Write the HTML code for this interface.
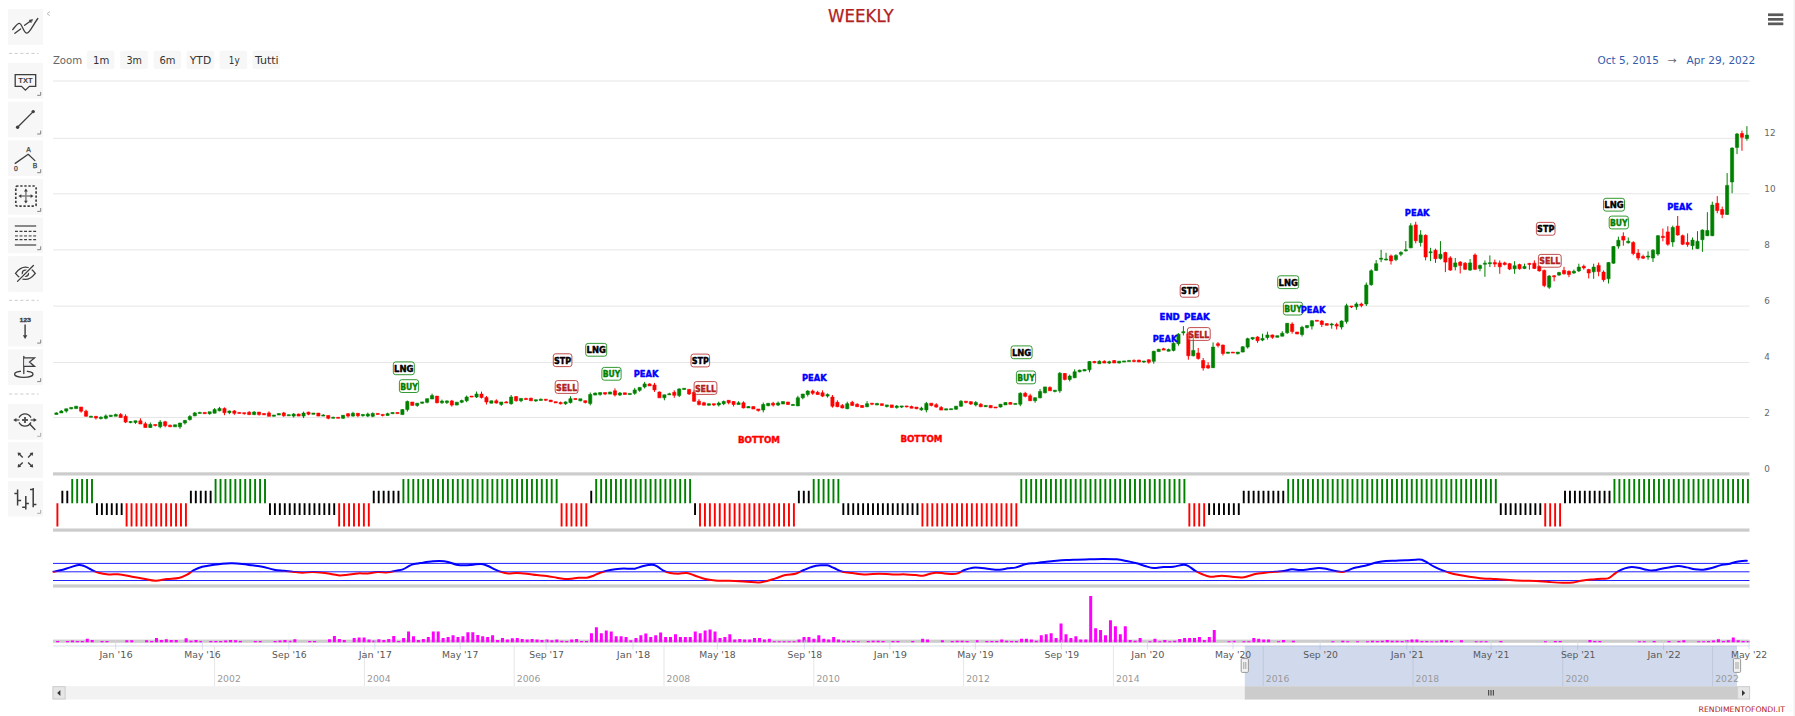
<!DOCTYPE html>
<html lang="en"><head><meta charset="utf-8"><title>WEEKLY</title>
<style>html,body{margin:0;padding:0;background:#fff;overflow:hidden}svg{display:block}</style>
</head><body>
<svg width="1795" height="716" viewBox="0 0 1795 716" font-family='"DejaVu Sans", "Liberation Sans", sans-serif'>
<rect width="1795" height="716" fill="#fff"/>
<rect x="1793.6" y="0" width="1.4" height="716" fill="#f1f1f1"/>
<text x="860.8" y="22.1" font-size="17.4" fill="#b22222" text-anchor="middle" textLength="65.6" lengthAdjust="spacingAndGlyphs" stroke="#b22222" stroke-width="0.25">WEEKLY</text>
<rect x="1768" y="13.4" width="15.3" height="2.7" fill="#595959"/>
<rect x="1768" y="18.0" width="15.3" height="2.7" fill="#595959"/>
<rect x="1768" y="22.5" width="15.3" height="2.7" fill="#595959"/>
<text x="52.9" y="63.5" font-size="10.2" fill="#666" textLength="29.3" lengthAdjust="spacingAndGlyphs">Zoom</text>
<rect x="86.8" y="50.8" width="27.6" height="18.2" rx="1.8" fill="#f7f7f7"/>
<text x="93" y="63.5" font-size="10.2" fill="#333" textLength="16.3" lengthAdjust="spacingAndGlyphs">1m</text>
<rect x="120.2" y="50.8" width="27.6" height="18.2" rx="1.8" fill="#f7f7f7"/>
<text x="126.5" y="63.5" font-size="10.2" fill="#333" textLength="15.5" lengthAdjust="spacingAndGlyphs">3m</text>
<rect x="153.6" y="50.8" width="27.6" height="18.2" rx="1.8" fill="#f7f7f7"/>
<text x="159.5" y="63.5" font-size="10.2" fill="#333" textLength="16" lengthAdjust="spacingAndGlyphs">6m</text>
<rect x="186.6" y="50.8" width="27.6" height="18.2" rx="1.8" fill="#f7f7f7"/>
<text x="189.8" y="63.5" font-size="10.2" fill="#333" textLength="21.4" lengthAdjust="spacingAndGlyphs">YTD</text>
<rect x="219.6" y="50.8" width="27.6" height="18.2" rx="1.8" fill="#f7f7f7"/>
<text x="228.8" y="63.5" font-size="10.2" fill="#333" textLength="10.8" lengthAdjust="spacingAndGlyphs">1y</text>
<rect x="252.5" y="50.8" width="27.6" height="18.2" rx="1.8" fill="#f7f7f7"/>
<text x="254.9" y="63.5" font-size="10.2" fill="#333" textLength="23.8" lengthAdjust="spacingAndGlyphs">Tutti</text>
<text x="1597.6" y="64" font-size="10.2" fill="#335cad" textLength="61.3" lengthAdjust="spacingAndGlyphs">Oct 5, 2015</text>
<text x="1667.6" y="64" font-size="10.2" fill="#666" textLength="9.2" lengthAdjust="spacingAndGlyphs">→</text>
<text x="1686.6" y="64" font-size="10.2" fill="#335cad" textLength="68.7" lengthAdjust="spacingAndGlyphs">Apr 29, 2022</text>
<rect x="53" y="80.5" width="1696.5" height="1" fill="#e6e6e6"/>
<rect x="53" y="137.8" width="1696.5" height="1" fill="#e6e6e6"/>
<rect x="53" y="193.3" width="1696.5" height="1" fill="#e6e6e6"/>
<rect x="53" y="249.4" width="1696.5" height="1" fill="#e6e6e6"/>
<rect x="53" y="305.6" width="1696.5" height="1" fill="#e6e6e6"/>
<rect x="53" y="361.9" width="1696.5" height="1" fill="#e6e6e6"/>
<rect x="53" y="417" width="1696.5" height="1" fill="#e6e6e6"/>
<text x="1764.3" y="135.6" font-size="8.8" fill="#666">12</text>
<text x="1764.3" y="191.6" font-size="8.8" fill="#666">10</text>
<text x="1764.3" y="247.6" font-size="8.8" fill="#666">8</text>
<text x="1764.3" y="303.6" font-size="8.8" fill="#666">6</text>
<text x="1764.3" y="359.6" font-size="8.8" fill="#666">4</text>
<text x="1764.3" y="415.6" font-size="8.8" fill="#666">2</text>
<text x="1764.3" y="471.6" font-size="8.8" fill="#666">0</text>
<rect x="53" y="472.29999999999995" width="1696.5" height="3.2" fill="#ccc"/>
<rect x="53" y="528.5" width="1696.5" height="3.2" fill="#ccc"/>
<rect x="53" y="584.4" width="1696.5" height="3.2" fill="#ccc"/>
<rect x="53" y="639.6" width="1696.5" height="3.2" fill="#ccc"/>
<path d="M56.4 412.4V414.4M61.34 410.1V412.9M66.29 408.8V412.6M71.23 407.4V409.3M76.17 406.2V408.6M91 415.7V417.3M100.89 416.3V419.5M105.83 414.4V419.3M110.77 415.2V417M115.72 413.6V416.2M130.54 421V423.2M135.49 420.8V423.9M150.32 422.5V428M160.2 420.1V428.3M175.03 424.8V426.8M179.97 423V428.8M184.92 419.9V424.5M189.86 415.1V420.6M194.8 411.9V416.3M199.75 411.8V413.4M209.63 411.8V414.7M214.58 408.1V413.2M219.52 406.9V411.3M229.41 410.5V414.2M254.12 411.1V415.1M273.89 415V416.3M278.83 413.6V415M288.72 414.7V415.8M293.66 413.1V417.6M303.55 411.6V418.1M313.44 413.1V414.3M323.32 414.1V416.1M333.21 416.7V418.3M343.09 415.3V418.8M352.98 411.8V416.6M362.87 413.9V416.7M367.81 412.6V417.1M372.75 412.4V417.3M387.58 412.7V415.4M392.52 412.5V413.7M402.41 409.1V414.6M407.35 400.5V411.6M417.24 403.2V406.9M422.18 401.9V403.8M427.12 398.7V403.3M432.07 393.6V399M441.95 399.6V403.8M446.9 400.4V404M456.78 402.2V405.1M461.73 399.6V403.2M466.67 395.5V402.2M476.55 391.5V398M491.38 400.8V403.2M501.27 402V405.9M511.16 395V404.7M521.04 398.4V402.2M535.87 399.7V401.9M540.81 398.6V400.4M565.53 401.4V404.8M570.47 396.2V403.5M580.36 398.8V401.3M590.24 392.5V405.4M595.19 392.6V395.1M600.13 392.6V395.6M610.02 391.6V394.1M619.9 392V396M629.79 393.4V394.6M634.73 387.9V394.8M639.67 387.4V391.8M644.62 381.9V388.4M664.39 394.8V400.3M669.33 392.8V394.8M679.22 388.4V397.1M684.16 388.3V389.5M708.88 403.7V405.7M718.76 401.6V406.5M723.7 400.5V405.2M738.53 401.3V404.5M748.42 406V407.9M763.25 402.5V412.4M768.19 403.3V406.2M778.08 401.5V406.1M783.02 401.6V404M792.91 403.9V405.5M797.85 395.8V405.9M802.79 394V399.3M807.74 390.1V396.5M827.51 393.4V397.6M847.28 401.7V409.2M867.05 401.2V407.2M876.94 402.9V405M886.82 404.9V407.5M896.71 405V408.6M901.65 405.9V408.1M921.42 406.7V410.8M926.37 401.9V412.4M946.14 408.8V410.1M951.08 408.7V409.7M956.03 406.2V409.7M960.97 400.2V406.7M975.8 401V406.4M985.68 405.4V406.7M1000.51 404.2V407.5M1005.46 402.5V404.9M1015.34 403.4V404.3M1020.28 392.3V406.2M1035.11 397.7V402.7M1040.06 389V398.3M1045 386.9V393.3M1054.89 390.2V392.4M1059.83 372.2V392.8M1069.71 374.6V381.4M1074.66 369.3V378.2M1079.6 369.7V372.3M1084.54 369.4V371M1089.49 361.5V372.3M1099.37 360.3V363.7M1109.26 360.7V364.1M1119.14 361.2V363.5M1124.09 360.9V362.1M1129.03 360.4V361.6M1143.86 361V363M1153.75 350.8V363.8M1158.69 348.8V351.6M1168.58 348.6V351.2M1173.52 342.2V351.4M1178.46 333.2V345.7M1183.4 326.1V335.4M1193.29 335.4V356.3M1213.06 342.4V368M1227.89 352.1V353.3M1237.78 352.1V354.3M1242.72 346.3V352.1M1247.66 337.7V348.6M1252.61 337.4V340M1262.49 333.7V341.2M1267.43 331.7V339.6M1277.32 335.7V337.3M1282.26 331.2V336.2M1287.21 323.3V333.8M1302.04 325.8V336.5M1306.98 325.6V328.5M1311.92 320.3V329.5M1331.69 322.8V328.7M1341.58 320.3V329.5M1346.52 303.7V323.6M1356.41 302.3V309.8M1366.3 282.5V306M1371.24 269.3V285.7M1376.18 260.1V270.8M1381.12 249.8V262.1M1386.07 252.8V260.4M1395.95 254.2V261.2M1400.9 251.2V256.2M1405.84 241.1V251.5M1410.78 223.2V248.2M1420.67 230.2V246.6M1430.55 247.8V261.2M1440.44 241.1V259.6M1455.27 257.9V270.4M1470.1 259V270.8M1479.98 264.6V271.3M1484.93 260.4V276.8M1489.87 255.4V267.1M1514.59 261.2V273.8M1524.47 263.7V269.1M1549.19 275.1V288.9M1559.07 271.8V275.8M1573.9 269.6V273.8M1578.84 263.7V272.1M1593.67 263.7V278.8M1608.5 262.1V283.5M1613.44 246.1V263.7M1618.39 236.6V248.7M1628.27 237.5V243.5M1648.05 251.3V259.8M1652.99 249.1V262M1657.93 235.2V255.8M1672.76 225.6V246.8M1692.53 237.5V249.7M1697.48 231.2V249.1M1702.42 229.4V251.8M1707.36 212.2V236.1M1712.31 201.7V236.1M1727.13 173.1V214.9M1732.08 147.4V193.2M1737.02 132.9V154.1M1746.91 126.2V140.7" stroke="#008000" stroke-width="1" fill="none"/>
<path d="M81.11 407V412.7M86.06 409.7V416.3M95.94 416.3V419.5M120.66 413.1V417.6M125.6 414.3V423.1M140.43 418.3V424M145.37 421.8V427.5M155.26 424.5V426.5M165.15 420.8V427.3M170.09 424.7V426.8M204.69 412.4V413.7M224.46 407.4V415.2M234.35 410V414.8M239.29 412.4V413.4M244.23 412.7V414.7M249.18 411.2V415.1M259.06 412.1V415.6M264.01 413V414.8M268.95 411.4V416.3M283.78 411.9V416.8M298.61 413.6V416.1M308.49 411.7V415.2M318.38 413.1V416.1M328.26 415.4V419.3M338.15 417.3V418.3M348.04 413.2V417.6M357.92 413.3V417.2M377.69 413.4V414.4M382.64 414.4V416.4M397.47 412.5V413.6M412.3 402V405.4M437.01 396.1V403.3M451.84 399.9V406.6M471.61 396.1V397.1M481.5 391.6V398.5M486.44 396V404.5M496.33 399.3V403.6M506.21 401V403M516.1 396.1V401.7M525.99 397.8V400.1M530.93 397.7V400.8M545.76 399.2V401.1M550.7 400.1V401.7M555.64 401.7V402.9M560.59 401.6V404.4M575.41 398.5V399.5M585.3 400.7V403.5M605.07 392.6V395.1M614.96 388.3V396.5M624.84 392.8V394.5M649.56 383.4V385.9M654.5 382.9V391.9M659.45 391.5V397.8M674.27 390.3V397.8M689.1 388.9V395M694.05 390.3V401.7M698.99 399.2V405.5M703.93 401.8V405.2M713.82 403.7V406M728.65 400.3V404.3M733.59 401V406.5M743.48 401.3V408.4M753.36 406.6V409M758.31 409V411.6M773.13 401.8V406.6M787.96 402V405M812.68 389.6V394.8M817.62 390.8V394.5M822.56 390.3V397.1M832.45 395V407.7M837.39 400.3V407.2M842.34 403.9V408.4M852.22 400.8V405.9M857.17 403.2V406.7M862.11 405V407.5M871.99 403.2V405.2M881.88 403.7V405.9M891.77 404.9V407.6M906.6 405.9V407.4M911.54 405.6V408.2M916.48 407.1V409.2M931.31 403.2V406.4M936.25 403.2V407.6M941.2 406V410.1M965.91 401.2V403.4M970.85 401.2V405M980.74 403.2V407.2M990.63 405.4V407.8M995.57 407V408M1010.4 402V404.3M1025.23 391.8V397.3M1030.17 393.8V401.2M1049.94 386.4V390.8M1064.77 373V380.4M1094.43 360.9V363.3M1104.32 360.3V363.1M1114.2 360.1V363M1133.97 359.4V362.3M1138.92 360V362M1148.8 359.3V363.7M1163.63 347.8V350.1M1188.35 332V359.7M1198.23 347.9V359.7M1203.18 358V370.6M1208.12 362.2V368.9M1218.01 342.1V347.4M1222.95 344.6V355.5M1232.83 352.1V352.8M1257.55 336.2V342.9M1272.38 334.5V338.8M1292.15 322.3V333.7M1297.09 332V334M1316.87 320.3V321.1M1321.81 320.1V327M1326.75 323.6V325.3M1336.64 322.8V329.5M1351.47 306V308M1361.35 302.6V307.3M1391.01 254.5V264.6M1415.72 221.8V243.3M1425.61 234.4V260.4M1435.5 248.7V262.9M1445.38 251.7V272.1M1450.33 256.2V270.8M1460.21 261.2V273.5M1465.15 262.1V270.1M1475.04 253.4V270.1M1494.81 259.6V267.1M1499.76 260.4V273.8M1504.7 261.7V265.4M1509.64 262.9V270.1M1519.53 263.7V269.6M1529.41 262.9V269.6M1534.36 260.4V269.1M1539.3 265.4V271.6M1544.24 269.6V287.2M1554.13 275.1V281.3M1564.01 266.8V274.6M1568.96 270.4V277.2M1583.79 264.6V269.6M1588.73 268.8V278.5M1598.62 262.6V276.3M1603.56 270.4V281.8M1623.33 232.3V245.7M1633.22 241.3V255.3M1638.16 249.1V260.3M1643.1 254.7V259.1M1662.88 228.5V241.3M1667.82 226.3V245.7M1677.7 216V235.7M1682.65 234.6V245.1M1687.59 233.4V246.8M1717.25 196.1V213.3M1722.19 206.6V218.2M1741.96 130.6V150.8" stroke="#ff0000" stroke-width="1" fill="none"/>
<path d="M54.8 412.9h3.2V414.4h-3.2zM59.74 411.1h3.2V412.9h-3.2zM64.69 408.8h3.2V411.1h-3.2zM69.63 407.4h3.2V408.8h-3.2zM74.57 406.2h3.2V408.6h-3.2zM89.4 416.3h3.2V417.3h-3.2zM99.29 417.3h3.2V418.5h-3.2zM104.23 415.9h3.2V418.3h-3.2zM109.17 415.2h3.2V416.4h-3.2zM114.12 414.6h3.2V416.2h-3.2zM128.94 421.6h3.2V422.6h-3.2zM133.89 420.8h3.2V422.4h-3.2zM148.72 424.5h3.2V427.5h-3.2zM158.6 422.1h3.2V426.8h-3.2zM173.43 424.8h3.2V426.8h-3.2zM178.38 423h3.2V426.8h-3.2zM183.32 420.4h3.2V423h-3.2zM188.26 416.6h3.2V419.6h-3.2zM193.2 412.9h3.2V415.8h-3.2zM198.15 412.4h3.2V413.4h-3.2zM208.03 411.8h3.2V413.7h-3.2zM212.98 409.6h3.2V413.2h-3.2zM217.92 408.4h3.2V410.8h-3.2zM227.81 411h3.2V412.7h-3.2zM252.52 412.1h3.2V414.6h-3.2zM272.29 415h3.2V416.3h-3.2zM277.23 413.6h3.2V415h-3.2zM287.12 414.7h3.2V415.8h-3.2zM292.06 414.1h3.2V416.1h-3.2zM301.95 413.1h3.2V416.1h-3.2zM311.84 413.1h3.2V414.3h-3.2zM321.72 415.1h3.2V416.1h-3.2zM331.61 417.3h3.2V418.3h-3.2zM341.49 415.3h3.2V418.3h-3.2zM351.38 413.3h3.2V416.1h-3.2zM361.27 414.5h3.2V415.7h-3.2zM366.21 414.1h3.2V416.1h-3.2zM371.15 413.4h3.2V416.3h-3.2zM385.98 413.7h3.2V415.4h-3.2zM390.92 412.5h3.2V413.7h-3.2zM400.81 409.6h3.2V414.6h-3.2zM405.75 401.5h3.2V409.6h-3.2zM415.64 403.2h3.2V405.4h-3.2zM420.58 401.9h3.2V403.2h-3.2zM425.52 398.7h3.2V402.3h-3.2zM430.47 395.6h3.2V399h-3.2zM440.35 401.1h3.2V402.8h-3.2zM445.3 400.9h3.2V402.5h-3.2zM455.18 402.2h3.2V405.1h-3.2zM460.13 400.6h3.2V402.2h-3.2zM465.07 397h3.2V400.7h-3.2zM474.95 394h3.2V397h-3.2zM489.78 400.8h3.2V403.2h-3.2zM499.67 402h3.2V404.4h-3.2zM509.56 397h3.2V403.7h-3.2zM519.44 398.4h3.2V400.7h-3.2zM534.27 399.7h3.2V400.9h-3.2zM539.21 399.2h3.2V400.4h-3.2zM563.93 401.9h3.2V403.8h-3.2zM568.87 398.7h3.2V402.5h-3.2zM578.76 398.8h3.2V400.8h-3.2zM588.64 394.5h3.2V403.4h-3.2zM593.59 393.1h3.2V395.1h-3.2zM598.53 392.6h3.2V394.6h-3.2zM608.42 392.1h3.2V394.1h-3.2zM618.3 393h3.2V395h-3.2zM628.19 393.4h3.2V394.6h-3.2zM633.13 389.9h3.2V393.3h-3.2zM638.07 387.4h3.2V390.3h-3.2zM643.02 383.9h3.2V386.9h-3.2zM662.79 394.8h3.2V397.8h-3.2zM667.73 393.8h3.2V394.8h-3.2zM677.62 388.9h3.2V395.6h-3.2zM682.56 388.3h3.2V389.5h-3.2zM707.28 403.7h3.2V405.2h-3.2zM717.16 403.1h3.2V405h-3.2zM722.1 401.5h3.2V403.7h-3.2zM736.93 402.8h3.2V404.5h-3.2zM746.82 406.6h3.2V407.9h-3.2zM761.65 404.5h3.2V409.9h-3.2zM766.59 403.3h3.2V405.7h-3.2zM776.48 403h3.2V405.1h-3.2zM781.42 401.6h3.2V404h-3.2zM791.31 404.5h3.2V405.5h-3.2zM796.25 397.8h3.2V405.9h-3.2zM801.19 394h3.2V397.8h-3.2zM806.14 391.1h3.2V394.5h-3.2zM825.91 394.4h3.2V396.1h-3.2zM845.68 403.7h3.2V408.7h-3.2zM865.45 403.7h3.2V406.7h-3.2zM875.34 403.4h3.2V405h-3.2zM885.22 404.9h3.2V406.5h-3.2zM895.11 406h3.2V407.6h-3.2zM900.05 405.9h3.2V407.1h-3.2zM919.82 408.2h3.2V409.8h-3.2zM924.77 403.4h3.2V409.9h-3.2zM944.54 408.8h3.2V410.1h-3.2zM949.48 408.7h3.2V409.7h-3.2zM954.43 406.2h3.2V409.2h-3.2zM959.37 401.2h3.2V406.2h-3.2zM974.2 402.5h3.2V404.9h-3.2zM984.08 405.4h3.2V406.7h-3.2zM998.91 404.2h3.2V407h-3.2zM1003.86 402.5h3.2V404.9h-3.2zM1013.74 403.4h3.2V404.4h-3.2zM1018.68 393.3h3.2V404.2h-3.2zM1033.51 397.7h3.2V400.7h-3.2zM1038.46 391.5h3.2V397.8h-3.2zM1043.4 386.9h3.2V392.8h-3.2zM1053.29 390.2h3.2V391.4h-3.2zM1058.23 373.2h3.2V390.8h-3.2zM1068.12 376.1h3.2V379.4h-3.2zM1073.06 371.8h3.2V377.7h-3.2zM1078 370.2h3.2V371.8h-3.2zM1082.94 369.4h3.2V371h-3.2zM1087.89 361.5h3.2V369.8h-3.2zM1097.77 361.3h3.2V363.7h-3.2zM1107.66 361.7h3.2V363.1h-3.2zM1117.55 361.2h3.2V363h-3.2zM1122.49 360.9h3.2V362.1h-3.2zM1127.43 360.4h3.2V361.6h-3.2zM1142.26 361h3.2V362h-3.2zM1152.15 351.3h3.2V361.3h-3.2zM1157.09 349.3h3.2V351.6h-3.2zM1166.98 349.6h3.2V351.2h-3.2zM1171.92 343.2h3.2V350.4h-3.2zM1176.86 334.2h3.2V343.7h-3.2zM1181.8 331.7h3.2V332.8h-3.2zM1191.69 350.4h3.2V355.8h-3.2zM1211.46 347.1h3.2V367.7h-3.2zM1226.29 352.1h3.2V353.3h-3.2zM1236.18 352.1h3.2V353.8h-3.2zM1241.12 346.8h3.2V352.1h-3.2zM1246.06 338.7h3.2V347.1h-3.2zM1251.01 337.4h3.2V339h-3.2zM1260.89 338.4h3.2V340.1h-3.2zM1265.84 335h3.2V337.5h-3.2zM1275.72 335.7h3.2V337.3h-3.2zM1280.66 333.2h3.2V336.2h-3.2zM1285.61 323.3h3.2V332.8h-3.2zM1300.44 327.3h3.2V334.5h-3.2zM1305.38 325.6h3.2V327.5h-3.2zM1310.32 320.8h3.2V326.1h-3.2zM1330.09 324h3.2V325h-3.2zM1339.98 321.1h3.2V327h-3.2zM1344.92 305.7h3.2V321.6h-3.2zM1354.81 304h3.2V306.8h-3.2zM1364.7 285h3.2V304h-3.2zM1369.64 270.8h3.2V284.7h-3.2zM1374.58 263.7h3.2V270.4h-3.2zM1379.52 258.2h3.2V259.2h-3.2zM1384.47 259h3.2V260h-3.2zM1394.35 255.4h3.2V259.6h-3.2zM1399.3 252.5h3.2V254.2h-3.2zM1404.24 249.8h3.2V250.8h-3.2zM1409.18 225.7h3.2V247.8h-3.2zM1419.07 234.9h3.2V242.5h-3.2zM1428.95 251.8h3.2V252.8h-3.2zM1438.84 254.2h3.2V258.4h-3.2zM1453.67 262.9h3.2V266.8h-3.2zM1468.5 262.9h3.2V270.1h-3.2zM1478.38 265.4h3.2V268.4h-3.2zM1483.33 263.2h3.2V264.2h-3.2zM1488.27 262.7h3.2V263.7h-3.2zM1512.99 265.8h3.2V268.8h-3.2zM1522.87 266.4h3.2V268.4h-3.2zM1547.59 276h3.2V287.2h-3.2zM1557.47 272.6h3.2V275.1h-3.2zM1572.3 271.3h3.2V273h-3.2zM1577.24 267.1h3.2V270.9h-3.2zM1592.07 267.1h3.2V271.8h-3.2zM1606.9 262.6h3.2V278.8h-3.2zM1611.85 246.5h3.2V263.2h-3.2zM1616.79 240.3h3.2V246.1h-3.2zM1626.67 241.3h3.2V242.8h-3.2zM1646.45 256h3.2V257.1h-3.2zM1651.39 250.2h3.2V258h-3.2zM1656.33 235.7h3.2V254h-3.2zM1671.16 227.4h3.2V241.9h-3.2zM1690.93 240.1h3.2V245.7h-3.2zM1695.88 241.3h3.2V248.6h-3.2zM1700.82 230.1h3.2V239.7h-3.2zM1705.76 230.5h3.2V235.7h-3.2zM1710.71 205.1h3.2V235.7h-3.2zM1725.53 185.4h3.2V214.4h-3.2zM1730.48 148.1h3.2V182h-3.2zM1735.42 134h3.2V147.4h-3.2zM1745.31 135.1h3.2V138.5h-3.2z" fill="#008000" stroke="#008000" stroke-width="0.6" stroke-linejoin="round"/>
<path d="M79.52 407h3.2V411.2h-3.2zM84.46 411.2h3.2V416.3h-3.2zM94.34 416.3h3.2V418h-3.2zM119.06 414.6h3.2V417.6h-3.2zM124 416.3h3.2V422.1h-3.2zM138.83 420.8h3.2V424h-3.2zM143.77 423.8h3.2V427.5h-3.2zM153.66 424.5h3.2V425.5h-3.2zM163.55 421.8h3.2V425.8h-3.2zM168.49 425.2h3.2V426.8h-3.2zM203.09 412.4h3.2V413.7h-3.2zM222.86 408.4h3.2V412.7h-3.2zM232.75 411h3.2V413.3h-3.2zM237.69 412.4h3.2V413.4h-3.2zM242.63 412.7h3.2V413.7h-3.2zM247.58 412.2h3.2V414.6h-3.2zM257.46 412.1h3.2V414.6h-3.2zM262.41 413.6h3.2V414.8h-3.2zM267.35 412.9h3.2V416.3h-3.2zM282.18 412.9h3.2V415.8h-3.2zM297.01 414.1h3.2V416.1h-3.2zM306.89 412.2h3.2V414.2h-3.2zM316.78 413.1h3.2V416.1h-3.2zM326.66 415.4h3.2V418.3h-3.2zM336.55 417.3h3.2V418.3h-3.2zM346.44 413.7h3.2V416.1h-3.2zM356.32 413.3h3.2V415.7h-3.2zM376.09 413.4h3.2V414.4h-3.2zM381.04 414.4h3.2V415.4h-3.2zM395.87 412.5h3.2V413.6h-3.2zM410.7 402h3.2V405.4h-3.2zM435.41 396.1h3.2V402.8h-3.2zM450.24 400.9h3.2V405.1h-3.2zM470.01 396.1h3.2V397.1h-3.2zM479.9 394.1h3.2V397.5h-3.2zM484.84 397.5h3.2V402h-3.2zM494.73 400.8h3.2V403.1h-3.2zM504.61 402h3.2V403h-3.2zM514.5 396.6h3.2V400.7h-3.2zM524.38 398.4h3.2V399.5h-3.2zM529.33 398.2h3.2V400.8h-3.2zM544.16 399.2h3.2V400.2h-3.2zM549.1 400.1h3.2V401.7h-3.2zM554.04 401.7h3.2V402.9h-3.2zM558.99 402.6h3.2V403.8h-3.2zM573.81 398.5h3.2V399.5h-3.2zM583.7 400.7h3.2V402.5h-3.2zM603.47 392.6h3.2V394.1h-3.2zM613.36 390.8h3.2V395h-3.2zM623.24 392.8h3.2V394.5h-3.2zM647.96 383.9h3.2V385.9h-3.2zM652.9 384.9h3.2V389.9h-3.2zM657.85 392h3.2V397.8h-3.2zM672.67 392.3h3.2V395.3h-3.2zM687.5 389.4h3.2V394h-3.2zM692.45 392.3h3.2V401.2h-3.2zM697.39 401.2h3.2V404.5h-3.2zM702.33 402.8h3.2V405.2h-3.2zM712.22 403.7h3.2V405h-3.2zM727.05 400.3h3.2V402.8h-3.2zM731.99 401.5h3.2V404.5h-3.2zM741.88 402.8h3.2V407.9h-3.2zM751.76 406.6h3.2V409h-3.2zM756.71 409h3.2V410.6h-3.2zM771.53 403.3h3.2V405.1h-3.2zM786.36 402h3.2V404.5h-3.2zM811.08 391.1h3.2V393.3h-3.2zM816.02 392.3h3.2V394.5h-3.2zM820.96 392.8h3.2V396.1h-3.2zM830.85 397h3.2V406.2h-3.2zM835.79 402.3h3.2V406.7h-3.2zM840.74 405.4h3.2V407.9h-3.2zM850.62 402.3h3.2V405.4h-3.2zM855.57 404.2h3.2V406.7h-3.2zM860.51 405.5h3.2V407.5h-3.2zM870.39 403.2h3.2V404.2h-3.2zM880.28 403.7h3.2V405.4h-3.2zM890.17 404.9h3.2V407.6h-3.2zM905 405.9h3.2V406.9h-3.2zM909.94 406.6h3.2V408.2h-3.2zM914.88 407.1h3.2V408.7h-3.2zM929.71 403.2h3.2V405.4h-3.2zM934.65 404.7h3.2V407.1h-3.2zM939.6 407.5h3.2V410.1h-3.2zM964.31 401.2h3.2V402.4h-3.2zM969.25 401.7h3.2V404h-3.2zM979.14 404.2h3.2V406.7h-3.2zM989.03 405.4h3.2V407.8h-3.2zM993.97 407h3.2V408h-3.2zM1008.8 402.5h3.2V404.3h-3.2zM1023.63 393.3h3.2V396.3h-3.2zM1028.57 395.8h3.2V400.7h-3.2zM1048.34 387.4h3.2V390.8h-3.2zM1063.17 373.5h3.2V379.4h-3.2zM1092.83 361.5h3.2V362.7h-3.2zM1102.72 361.3h3.2V363.1h-3.2zM1112.6 360.6h3.2V363h-3.2zM1132.37 360.4h3.2V361.4h-3.2zM1137.32 360h3.2V362h-3.2zM1147.2 359.8h3.2V362.2h-3.2zM1162.03 348.8h3.2V350.1h-3.2zM1186.75 333.7h3.2V355.8h-3.2zM1196.63 353h3.2V358.5h-3.2zM1201.58 360.5h3.2V368h-3.2zM1206.52 365.5h3.2V368h-3.2zM1216.41 343.7h3.2V345.4h-3.2zM1221.35 345.1h3.2V353.5h-3.2zM1231.23 352.1h3.2V353.1h-3.2zM1255.95 337h3.2V340.7h-3.2zM1270.78 335h3.2V337.3h-3.2zM1290.55 324.1h3.2V331.5h-3.2zM1295.49 332h3.2V334h-3.2zM1315.27 320.3h3.2V321.3h-3.2zM1320.21 321.1h3.2V324.5h-3.2zM1325.15 323.6h3.2V325.3h-3.2zM1335.04 324.5h3.2V326.1h-3.2zM1349.87 306h3.2V307h-3.2zM1359.75 304h3.2V305.6h-3.2zM1389.41 255.9h3.2V260.9h-3.2zM1414.12 224.9h3.2V240.8h-3.2zM1424.01 235.3h3.2V257h-3.2zM1433.9 250.3h3.2V258.7h-3.2zM1443.78 252.5h3.2V262.1h-3.2zM1448.73 257.9h3.2V270.1h-3.2zM1458.61 262.1h3.2V265.4h-3.2zM1463.56 263.2h3.2V269.3h-3.2zM1473.44 255h3.2V269.3h-3.2zM1493.21 262.4h3.2V264.1h-3.2zM1498.16 262.9h3.2V266.8h-3.2zM1503.1 262.9h3.2V264.6h-3.2zM1508.04 263.7h3.2V269.1h-3.2zM1517.93 264.6h3.2V268.8h-3.2zM1527.81 263.4h3.2V264.4h-3.2zM1532.76 263.2h3.2V268.4h-3.2zM1537.7 266.3h3.2V270.9h-3.2zM1542.64 270.4h3.2V285.5h-3.2zM1552.53 275.8h3.2V276.8h-3.2zM1562.41 270.4h3.2V273.8h-3.2zM1567.36 271.3h3.2V274.6h-3.2zM1582.19 266.3h3.2V267.9h-3.2zM1587.13 269.6h3.2V273h-3.2zM1597.02 265.4h3.2V271.6h-3.2zM1601.96 272.1h3.2V279.7h-3.2zM1621.73 236.3h3.2V240.1h-3.2zM1631.62 242.4h3.2V253.5h-3.2zM1636.56 253.1h3.2V258h-3.2zM1641.5 256.5h3.2V258.2h-3.2zM1661.28 236.3h3.2V237.5h-3.2zM1666.22 231.9h3.2V244.2h-3.2zM1676.1 226.1h3.2V235h-3.2zM1681.05 235.7h3.2V244.2h-3.2zM1685.99 242.4h3.2V244.6h-3.2zM1715.65 203.3h3.2V210.6h-3.2zM1720.59 209.5h3.2V214.4h-3.2zM1740.36 133.5h3.2V137.3h-3.2z" fill="#ff0000" stroke="#ff0000" stroke-width="0.6" stroke-linejoin="round"/>
<rect x="393.3" y="361.9" width="21" height="12.8" rx="2.4" fill="#fff" fill-opacity="0.3" stroke="#008000" stroke-width="1" stroke-opacity="0.8"/>
<text x="403.8" y="371.8" font-size="9.5" fill="#000" text-anchor="middle" font-weight="bold" textLength="19.4" lengthAdjust="spacingAndGlyphs" stroke="#000" stroke-width="0.45" stroke-linejoin="round">LNG</text>
<rect x="399.4" y="379.7" width="19.2" height="12.8" rx="2.4" fill="#fff" fill-opacity="0.3" stroke="#008000" stroke-width="1" stroke-opacity="0.8"/>
<text x="409" y="389.6" font-size="9.5" fill="#008000" text-anchor="middle" font-weight="bold" textLength="17.6" lengthAdjust="spacingAndGlyphs" stroke="#008000" stroke-width="0.45" stroke-linejoin="round">BUY</text>
<rect x="553.3" y="353.8" width="18.6" height="12.8" rx="2.4" fill="#fff" fill-opacity="0.3" stroke="#b22222" stroke-width="1" stroke-opacity="0.8"/>
<text x="562.6" y="363.7" font-size="9.5" fill="#000" text-anchor="middle" font-weight="bold" textLength="17.2" lengthAdjust="spacingAndGlyphs" stroke="#000" stroke-width="0.45" stroke-linejoin="round">STP</text>
<rect x="555.2" y="380.6" width="22.8" height="12.8" rx="2.4" fill="#fff" fill-opacity="0.3" stroke="#b22222" stroke-width="1" stroke-opacity="0.8"/>
<text x="566.6" y="390.5" font-size="9.5" fill="#b22222" text-anchor="middle" font-weight="bold" textLength="21.2" lengthAdjust="spacingAndGlyphs" stroke="#b22222" stroke-width="0.45" stroke-linejoin="round">SELL</text>
<rect x="585.7" y="343.4" width="21" height="12.8" rx="2.4" fill="#fff" fill-opacity="0.3" stroke="#008000" stroke-width="1" stroke-opacity="0.8"/>
<text x="596.2" y="353.3" font-size="9.5" fill="#000" text-anchor="middle" font-weight="bold" textLength="19.4" lengthAdjust="spacingAndGlyphs" stroke="#000" stroke-width="0.45" stroke-linejoin="round">LNG</text>
<rect x="601.9" y="367.4" width="19.2" height="12.8" rx="2.4" fill="#fff" fill-opacity="0.3" stroke="#008000" stroke-width="1" stroke-opacity="0.8"/>
<text x="611.5" y="377.3" font-size="9.5" fill="#008000" text-anchor="middle" font-weight="bold" textLength="17.6" lengthAdjust="spacingAndGlyphs" stroke="#008000" stroke-width="0.45" stroke-linejoin="round">BUY</text>
<text x="646" y="377.1" font-size="9.5" fill="#0000ff" text-anchor="middle" font-weight="bold" textLength="24.7" lengthAdjust="spacingAndGlyphs" stroke="#0000ff" stroke-width="0.45" stroke-linejoin="round">PEAK</text>
<rect x="691" y="354.1" width="18.6" height="12.8" rx="2.4" fill="#fff" fill-opacity="0.3" stroke="#b22222" stroke-width="1" stroke-opacity="0.8"/>
<text x="700.3" y="364" font-size="9.5" fill="#000" text-anchor="middle" font-weight="bold" textLength="17.2" lengthAdjust="spacingAndGlyphs" stroke="#000" stroke-width="0.45" stroke-linejoin="round">STP</text>
<rect x="694.1" y="381.6" width="22.8" height="12.8" rx="2.4" fill="#fff" fill-opacity="0.3" stroke="#b22222" stroke-width="1" stroke-opacity="0.8"/>
<text x="705.5" y="391.5" font-size="9.5" fill="#b22222" text-anchor="middle" font-weight="bold" textLength="21.2" lengthAdjust="spacingAndGlyphs" stroke="#b22222" stroke-width="0.45" stroke-linejoin="round">SELL</text>
<text x="759" y="442.9" font-size="9.5" fill="#ff0000" text-anchor="middle" font-weight="bold" textLength="42" lengthAdjust="spacingAndGlyphs" stroke="#ff0000" stroke-width="0.45" stroke-linejoin="round">BOTTOM</text>
<text x="814.3" y="381" font-size="9.5" fill="#0000ff" text-anchor="middle" font-weight="bold" textLength="24.7" lengthAdjust="spacingAndGlyphs" stroke="#0000ff" stroke-width="0.45" stroke-linejoin="round">PEAK</text>
<text x="921.4" y="442.1" font-size="9.5" fill="#ff0000" text-anchor="middle" font-weight="bold" textLength="42" lengthAdjust="spacingAndGlyphs" stroke="#ff0000" stroke-width="0.45" stroke-linejoin="round">BOTTOM</text>
<rect x="1011.1" y="345.9" width="21" height="12.8" rx="2.4" fill="#fff" fill-opacity="0.3" stroke="#008000" stroke-width="1" stroke-opacity="0.8"/>
<text x="1021.6" y="355.8" font-size="9.5" fill="#000" text-anchor="middle" font-weight="bold" textLength="19.4" lengthAdjust="spacingAndGlyphs" stroke="#000" stroke-width="0.45" stroke-linejoin="round">LNG</text>
<rect x="1016.4" y="371" width="19.2" height="12.8" rx="2.4" fill="#fff" fill-opacity="0.3" stroke="#008000" stroke-width="1" stroke-opacity="0.8"/>
<text x="1026" y="380.9" font-size="9.5" fill="#008000" text-anchor="middle" font-weight="bold" textLength="17.6" lengthAdjust="spacingAndGlyphs" stroke="#008000" stroke-width="0.45" stroke-linejoin="round">BUY</text>
<text x="1165" y="342" font-size="9.5" fill="#0000ff" text-anchor="middle" font-weight="bold" textLength="24.7" lengthAdjust="spacingAndGlyphs" stroke="#0000ff" stroke-width="0.45" stroke-linejoin="round">PEAK</text>
<text x="1184.6" y="320.2" font-size="9.5" fill="#0000ff" text-anchor="middle" font-weight="bold" textLength="50.2" lengthAdjust="spacingAndGlyphs" stroke="#0000ff" stroke-width="0.45" stroke-linejoin="round">END_PEAK</text>
<rect x="1180.2" y="284.4" width="18.6" height="12.8" rx="2.4" fill="#fff" fill-opacity="0.3" stroke="#b22222" stroke-width="1" stroke-opacity="0.8"/>
<text x="1189.5" y="294.3" font-size="9.5" fill="#000" text-anchor="middle" font-weight="bold" textLength="17.2" lengthAdjust="spacingAndGlyphs" stroke="#000" stroke-width="0.45" stroke-linejoin="round">STP</text>
<rect x="1187.4" y="327.6" width="22.8" height="12.8" rx="2.4" fill="#fff" fill-opacity="0.3" stroke="#b22222" stroke-width="1" stroke-opacity="0.8"/>
<text x="1198.8" y="337.5" font-size="9.5" fill="#b22222" text-anchor="middle" font-weight="bold" textLength="21.2" lengthAdjust="spacingAndGlyphs" stroke="#b22222" stroke-width="0.45" stroke-linejoin="round">SELL</text>
<rect x="1277.7" y="275.8" width="21" height="12.8" rx="2.4" fill="#fff" fill-opacity="0.3" stroke="#008000" stroke-width="1" stroke-opacity="0.8"/>
<text x="1288.2" y="285.7" font-size="9.5" fill="#000" text-anchor="middle" font-weight="bold" textLength="19.4" lengthAdjust="spacingAndGlyphs" stroke="#000" stroke-width="0.45" stroke-linejoin="round">LNG</text>
<rect x="1283.4" y="302.2" width="19.2" height="12.8" rx="2.4" fill="#fff" fill-opacity="0.3" stroke="#008000" stroke-width="1" stroke-opacity="0.8"/>
<text x="1293" y="312.1" font-size="9.5" fill="#008000" text-anchor="middle" font-weight="bold" textLength="17.6" lengthAdjust="spacingAndGlyphs" stroke="#008000" stroke-width="0.45" stroke-linejoin="round">BUY</text>
<text x="1313" y="313" font-size="9.5" fill="#0000ff" text-anchor="middle" font-weight="bold" textLength="24.7" lengthAdjust="spacingAndGlyphs" stroke="#0000ff" stroke-width="0.45" stroke-linejoin="round">PEAK</text>
<text x="1417.2" y="216" font-size="9.5" fill="#0000ff" text-anchor="middle" font-weight="bold" textLength="24.7" lengthAdjust="spacingAndGlyphs" stroke="#0000ff" stroke-width="0.45" stroke-linejoin="round">PEAK</text>
<rect x="1536.4" y="222.4" width="18.6" height="12.8" rx="2.4" fill="#fff" fill-opacity="0.3" stroke="#b22222" stroke-width="1" stroke-opacity="0.8"/>
<text x="1545.7" y="232.3" font-size="9.5" fill="#000" text-anchor="middle" font-weight="bold" textLength="17.2" lengthAdjust="spacingAndGlyphs" stroke="#000" stroke-width="0.45" stroke-linejoin="round">STP</text>
<rect x="1538.4" y="254.4" width="22.8" height="12.8" rx="2.4" fill="#fff" fill-opacity="0.3" stroke="#b22222" stroke-width="1" stroke-opacity="0.8"/>
<text x="1549.8" y="264.3" font-size="9.5" fill="#b22222" text-anchor="middle" font-weight="bold" textLength="21.2" lengthAdjust="spacingAndGlyphs" stroke="#b22222" stroke-width="0.45" stroke-linejoin="round">SELL</text>
<rect x="1603.5" y="198.3" width="21" height="12.8" rx="2.4" fill="#fff" fill-opacity="0.3" stroke="#008000" stroke-width="1" stroke-opacity="0.8"/>
<text x="1614" y="208.2" font-size="9.5" fill="#000" text-anchor="middle" font-weight="bold" textLength="19.4" lengthAdjust="spacingAndGlyphs" stroke="#000" stroke-width="0.45" stroke-linejoin="round">LNG</text>
<rect x="1609.2" y="216.1" width="19.2" height="12.8" rx="2.4" fill="#fff" fill-opacity="0.3" stroke="#008000" stroke-width="1" stroke-opacity="0.8"/>
<text x="1618.8" y="226" font-size="9.5" fill="#008000" text-anchor="middle" font-weight="bold" textLength="17.6" lengthAdjust="spacingAndGlyphs" stroke="#008000" stroke-width="0.45" stroke-linejoin="round">BUY</text>
<text x="1679.5" y="210.1" font-size="9.5" fill="#0000ff" text-anchor="middle" font-weight="bold" textLength="24.7" lengthAdjust="spacingAndGlyphs" stroke="#0000ff" stroke-width="0.45" stroke-linejoin="round">PEAK</text>
<path d="M72.23 479.0V503.3M77.17 479.0V503.3M82.11 479.0V503.3M87.06 479.0V503.3M92 479.0V503.3M215.58 479.0V503.3M220.52 479.0V503.3M225.46 479.0V503.3M230.41 479.0V503.3M235.35 479.0V503.3M240.29 479.0V503.3M245.23 479.0V503.3M250.18 479.0V503.3M255.12 479.0V503.3M260.06 479.0V503.3M265.01 479.0V503.3M403.41 479.0V503.3M408.35 479.0V503.3M413.3 479.0V503.3M418.24 479.0V503.3M423.18 479.0V503.3M428.12 479.0V503.3M433.07 479.0V503.3M438.01 479.0V503.3M442.95 479.0V503.3M447.9 479.0V503.3M452.84 479.0V503.3M457.78 479.0V503.3M462.73 479.0V503.3M467.67 479.0V503.3M472.61 479.0V503.3M477.55 479.0V503.3M482.5 479.0V503.3M487.44 479.0V503.3M492.38 479.0V503.3M497.33 479.0V503.3M502.27 479.0V503.3M507.21 479.0V503.3M512.16 479.0V503.3M517.1 479.0V503.3M522.04 479.0V503.3M526.99 479.0V503.3M531.93 479.0V503.3M536.87 479.0V503.3M541.81 479.0V503.3M546.76 479.0V503.3M551.7 479.0V503.3M556.64 479.0V503.3M596.19 479.0V503.3M601.13 479.0V503.3M606.07 479.0V503.3M611.02 479.0V503.3M615.96 479.0V503.3M620.9 479.0V503.3M625.84 479.0V503.3M630.79 479.0V503.3M635.73 479.0V503.3M640.67 479.0V503.3M645.62 479.0V503.3M650.56 479.0V503.3M655.5 479.0V503.3M660.45 479.0V503.3M665.39 479.0V503.3M670.33 479.0V503.3M675.27 479.0V503.3M680.22 479.0V503.3M685.16 479.0V503.3M690.1 479.0V503.3M813.68 479.0V503.3M818.62 479.0V503.3M823.56 479.0V503.3M828.51 479.0V503.3M833.45 479.0V503.3M838.39 479.0V503.3M1021.28 479.0V503.3M1026.23 479.0V503.3M1031.17 479.0V503.3M1036.11 479.0V503.3M1041.06 479.0V503.3M1046 479.0V503.3M1050.94 479.0V503.3M1055.89 479.0V503.3M1060.83 479.0V503.3M1065.77 479.0V503.3M1070.71 479.0V503.3M1075.66 479.0V503.3M1080.6 479.0V503.3M1085.54 479.0V503.3M1090.49 479.0V503.3M1095.43 479.0V503.3M1100.37 479.0V503.3M1105.32 479.0V503.3M1110.26 479.0V503.3M1115.2 479.0V503.3M1120.14 479.0V503.3M1125.09 479.0V503.3M1130.03 479.0V503.3M1134.97 479.0V503.3M1139.92 479.0V503.3M1144.86 479.0V503.3M1149.8 479.0V503.3M1154.75 479.0V503.3M1159.69 479.0V503.3M1164.63 479.0V503.3M1169.58 479.0V503.3M1174.52 479.0V503.3M1179.46 479.0V503.3M1184.4 479.0V503.3M1288.21 479.0V503.3M1293.15 479.0V503.3M1298.09 479.0V503.3M1303.04 479.0V503.3M1307.98 479.0V503.3M1312.92 479.0V503.3M1317.87 479.0V503.3M1322.81 479.0V503.3M1327.75 479.0V503.3M1332.69 479.0V503.3M1337.64 479.0V503.3M1342.58 479.0V503.3M1347.52 479.0V503.3M1352.47 479.0V503.3M1357.41 479.0V503.3M1362.35 479.0V503.3M1367.3 479.0V503.3M1372.24 479.0V503.3M1377.18 479.0V503.3M1382.12 479.0V503.3M1387.07 479.0V503.3M1392.01 479.0V503.3M1396.95 479.0V503.3M1401.9 479.0V503.3M1406.84 479.0V503.3M1411.78 479.0V503.3M1416.72 479.0V503.3M1421.67 479.0V503.3M1426.61 479.0V503.3M1431.55 479.0V503.3M1436.5 479.0V503.3M1441.44 479.0V503.3M1446.38 479.0V503.3M1451.33 479.0V503.3M1456.27 479.0V503.3M1461.21 479.0V503.3M1466.15 479.0V503.3M1471.1 479.0V503.3M1476.04 479.0V503.3M1480.98 479.0V503.3M1485.93 479.0V503.3M1490.87 479.0V503.3M1495.81 479.0V503.3M1614.44 479.0V503.3M1619.39 479.0V503.3M1624.33 479.0V503.3M1629.27 479.0V503.3M1634.22 479.0V503.3M1639.16 479.0V503.3M1644.1 479.0V503.3M1649.05 479.0V503.3M1653.99 479.0V503.3M1658.93 479.0V503.3M1663.88 479.0V503.3M1668.82 479.0V503.3M1673.76 479.0V503.3M1678.7 479.0V503.3M1683.65 479.0V503.3M1688.59 479.0V503.3M1693.53 479.0V503.3M1698.48 479.0V503.3M1703.42 479.0V503.3M1708.36 479.0V503.3M1713.31 479.0V503.3M1718.25 479.0V503.3M1723.19 479.0V503.3M1728.13 479.0V503.3M1733.08 479.0V503.3M1738.02 479.0V503.3M1742.96 479.0V503.3M1747.91 479.0V503.3" stroke="#008000" stroke-width="1.9" fill="none"/>
<path d="M62.34 490.7V503.3M67.29 490.7V503.3M96.94 503.3V515.0M101.89 503.3V515.0M106.83 503.3V515.0M111.77 503.3V515.0M116.72 503.3V515.0M121.66 503.3V515.0M190.86 490.7V503.3M195.8 490.7V503.3M200.75 490.7V503.3M205.69 490.7V503.3M210.63 490.7V503.3M269.95 503.3V515.0M274.89 503.3V515.0M279.83 503.3V515.0M284.78 503.3V515.0M289.72 503.3V515.0M294.66 503.3V515.0M299.61 503.3V515.0M304.55 503.3V515.0M309.49 503.3V515.0M314.44 503.3V515.0M319.38 503.3V515.0M324.32 503.3V515.0M329.26 503.3V515.0M334.21 503.3V515.0M373.75 490.7V503.3M378.69 490.7V503.3M383.64 490.7V503.3M388.58 490.7V503.3M393.52 490.7V503.3M398.47 490.7V503.3M591.24 490.7V503.3M695.05 503.3V515.0M798.85 490.7V503.3M803.79 490.7V503.3M808.74 490.7V503.3M843.34 503.3V515.0M848.28 503.3V515.0M853.22 503.3V515.0M858.17 503.3V515.0M863.11 503.3V515.0M868.05 503.3V515.0M872.99 503.3V515.0M877.94 503.3V515.0M882.88 503.3V515.0M887.82 503.3V515.0M892.77 503.3V515.0M897.71 503.3V515.0M902.65 503.3V515.0M907.6 503.3V515.0M912.54 503.3V515.0M917.48 503.3V515.0M1209.12 503.3V515.0M1214.06 503.3V515.0M1219.01 503.3V515.0M1223.95 503.3V515.0M1228.89 503.3V515.0M1233.83 503.3V515.0M1238.78 503.3V515.0M1243.72 490.7V503.3M1248.66 490.7V503.3M1253.61 490.7V503.3M1258.55 490.7V503.3M1263.49 490.7V503.3M1268.43 490.7V503.3M1273.38 490.7V503.3M1278.32 490.7V503.3M1283.26 490.7V503.3M1500.76 503.3V515.0M1505.7 503.3V515.0M1510.64 503.3V515.0M1515.59 503.3V515.0M1520.53 503.3V515.0M1525.47 503.3V515.0M1530.41 503.3V515.0M1535.36 503.3V515.0M1540.3 503.3V515.0M1565.01 490.7V503.3M1569.96 490.7V503.3M1574.9 490.7V503.3M1579.84 490.7V503.3M1584.79 490.7V503.3M1589.73 490.7V503.3M1594.67 490.7V503.3M1599.62 490.7V503.3M1604.56 490.7V503.3M1609.5 490.7V503.3" stroke="#000" stroke-width="1.9" fill="none"/>
<path d="M57.4 503.3V526.5M126.6 503.3V526.5M131.54 503.3V526.5M136.49 503.3V526.5M141.43 503.3V526.5M146.37 503.3V526.5M151.32 503.3V526.5M156.26 503.3V526.5M161.2 503.3V526.5M166.15 503.3V526.5M171.09 503.3V526.5M176.03 503.3V526.5M180.97 503.3V526.5M185.92 503.3V526.5M339.15 503.3V526.5M344.09 503.3V526.5M349.04 503.3V526.5M353.98 503.3V526.5M358.92 503.3V526.5M363.87 503.3V526.5M368.81 503.3V526.5M561.59 503.3V526.5M566.53 503.3V526.5M571.47 503.3V526.5M576.41 503.3V526.5M581.36 503.3V526.5M586.3 503.3V526.5M699.99 503.3V526.5M704.93 503.3V526.5M709.88 503.3V526.5M714.82 503.3V526.5M719.76 503.3V526.5M724.7 503.3V526.5M729.65 503.3V526.5M734.59 503.3V526.5M739.53 503.3V526.5M744.48 503.3V526.5M749.42 503.3V526.5M754.36 503.3V526.5M759.31 503.3V526.5M764.25 503.3V526.5M769.19 503.3V526.5M774.13 503.3V526.5M779.08 503.3V526.5M784.02 503.3V526.5M788.96 503.3V526.5M793.91 503.3V526.5M922.42 503.3V526.5M927.37 503.3V526.5M932.31 503.3V526.5M937.25 503.3V526.5M942.2 503.3V526.5M947.14 503.3V526.5M952.08 503.3V526.5M957.03 503.3V526.5M961.97 503.3V526.5M966.91 503.3V526.5M971.85 503.3V526.5M976.8 503.3V526.5M981.74 503.3V526.5M986.68 503.3V526.5M991.63 503.3V526.5M996.57 503.3V526.5M1001.51 503.3V526.5M1006.46 503.3V526.5M1011.4 503.3V526.5M1016.34 503.3V526.5M1189.35 503.3V526.5M1194.29 503.3V526.5M1199.23 503.3V526.5M1204.18 503.3V526.5M1545.24 503.3V526.5M1550.19 503.3V526.5M1555.13 503.3V526.5M1560.07 503.3V526.5" stroke="#ff0000" stroke-width="1.9" fill="none"/>
<rect x="53" y="562.9" width="1696.5" height="1" fill="#2222ff"/>
<rect x="53" y="571.3" width="1696.5" height="1" fill="#2222ff"/>
<rect x="53" y="580.0" width="1696.5" height="1" fill="#2222ff"/>
<defs><clipPath id="ca"><rect x="0" y="530" width="1795" height="41.8"/></clipPath><clipPath id="cb"><rect x="0" y="571.8" width="1795" height="20"/></clipPath></defs>
<path d="M53.36 571.7C54.75 571.42 58.94 570.76 61.72 570.03C64.51 569.31 67.3 568.19 70.08 567.36C72.87 566.52 76.22 565.29 78.44 565.01C80.67 564.74 81.51 565.01 83.46 565.68C85.41 566.35 87.64 567.86 90.15 569.03C92.66 570.2 95.45 571.82 98.51 572.71C101.58 573.6 104.92 574.1 108.55 574.38C112.17 574.66 116.35 573.99 120.25 574.38C124.15 574.77 128.05 576 131.96 576.72C135.86 577.45 139.76 578.06 143.66 578.73C147.56 579.4 151.47 580.68 155.37 580.73C159.27 580.79 163.17 579.51 167.07 579.06C170.98 578.62 175.43 578.78 178.78 578.06C182.12 577.33 184.63 576.05 187.14 574.71C189.65 573.38 191.32 571.37 193.83 570.03C196.34 568.69 199.12 567.52 202.19 566.69C205.26 565.85 208.88 565.52 212.22 565.01C215.57 564.51 218.91 563.96 222.26 563.68C225.6 563.4 228.95 563.29 232.29 563.34C235.64 563.4 238.98 563.68 242.32 564.01C245.67 564.35 249.01 564.9 252.36 565.35C255.7 565.8 258.77 565.96 262.39 566.69C266.01 567.41 270.47 569.03 274.1 569.7C277.72 570.37 281.06 570.37 284.13 570.7C287.2 571.03 289.43 571.37 292.49 571.7C295.56 572.04 299.18 572.65 302.53 572.71C305.87 572.76 309.21 572.04 312.56 572.04C315.9 572.04 319.53 572.37 322.59 572.71C325.66 573.04 328.17 573.6 330.95 574.04C333.74 574.49 336.53 575.27 339.31 575.38C342.1 575.49 344.61 575.05 347.68 574.71C350.74 574.38 354.36 573.6 357.71 573.38C361.05 573.15 364.4 573.6 367.74 573.38C371.09 573.15 374.43 572.21 377.78 572.04C381.12 571.87 384.74 572.6 387.81 572.37C390.88 572.15 393.66 571.2 396.17 570.7C398.68 570.2 400.91 570.03 402.86 569.36C404.81 568.69 406.2 567.52 407.88 566.69C409.55 565.85 410.38 565.01 412.89 564.35C415.4 563.68 419.58 563.18 422.93 562.67C426.27 562.17 430.17 561.61 432.96 561.34C435.75 561.06 437.14 560.89 439.65 561C442.16 561.11 445.22 561.39 448.01 562C450.8 562.62 453.58 564.12 456.37 564.68C459.16 565.24 461.95 565.35 464.73 565.35C467.52 565.35 470.31 564.9 473.09 564.68C475.88 564.46 478.95 563.79 481.45 564.01C483.96 564.23 485.91 565.13 488.14 566.02C490.37 566.91 492.6 568.36 494.83 569.36C497.06 570.37 499.29 571.37 501.52 572.04C503.75 572.71 505.7 573.21 508.21 573.38C510.72 573.54 513.51 572.99 516.57 573.04C519.64 573.1 523.26 573.38 526.61 573.71C529.95 574.04 533.29 574.66 536.64 575.05C539.98 575.44 543.33 575.61 546.67 576.05C550.02 576.5 553.64 577.22 556.71 577.72C559.77 578.23 562.56 578.89 565.07 579.06C567.58 579.23 569.53 578.95 571.76 578.73C573.99 578.5 575.94 577.89 578.44 577.72C580.95 577.56 584.3 578.06 586.81 577.72C589.31 577.39 591.27 576.55 593.49 575.72C595.72 574.88 597.4 573.65 600.18 572.71C602.97 571.76 606.87 570.7 610.22 570.03C613.56 569.36 616.91 568.92 620.25 568.69C623.6 568.47 627.83 568.69 630.28 568.69C632.74 568.69 632.82 569.14 635 568.69C637.18 568.25 640.57 566.69 643.36 566.02C646.15 565.35 649.49 564.68 651.72 564.68C653.95 564.68 654.79 565.01 656.74 566.02C658.69 567.02 661.2 569.53 663.43 570.7C665.66 571.87 667.61 572.54 670.12 573.04C672.63 573.54 675.69 573.71 678.48 573.71C681.27 573.71 684.05 572.71 686.84 573.04C689.63 573.38 692.13 574.71 695.2 575.72C698.27 576.72 701.89 578.28 705.23 579.06C708.58 579.84 711.92 580.12 715.27 580.4C718.61 580.68 721.96 580.62 725.3 580.73C728.65 580.85 731.71 580.9 735.33 581.07C738.96 581.24 743.14 581.51 747.04 581.74C750.94 581.96 755.4 582.52 758.75 582.41C762.09 582.29 764.32 581.74 767.11 581.07C769.89 580.4 772.4 579.4 775.47 578.39C778.53 577.39 782.16 575.83 785.5 575.05C788.85 574.27 792.47 574.55 795.54 573.71C798.6 572.87 801.11 571.2 803.9 570.03C806.68 568.86 809.47 567.47 812.26 566.69C815.04 565.91 818.11 565.57 820.62 565.35C823.13 565.13 825.08 564.9 827.31 565.35C829.54 565.8 831.49 566.97 834 568.02C836.51 569.08 839.29 570.87 842.36 571.7C845.42 572.54 848.49 572.6 852.39 573.04C856.29 573.49 861.31 574.27 865.77 574.38C870.23 574.49 874.69 573.71 879.15 573.71C883.61 573.71 888.07 574.27 892.53 574.38C896.98 574.49 902 574.27 905.9 574.38C909.8 574.49 913.15 574.83 915.94 575.05C918.72 575.27 920.4 575.88 922.63 575.72C924.86 575.55 927.08 574.55 929.31 574.04C931.54 573.54 933.49 572.82 936 572.71C938.51 572.6 941.58 573.15 944.36 573.38C947.15 573.6 950.5 574.04 952.73 574.04C954.96 574.04 955.79 574.04 957.74 573.38C959.69 572.71 961.92 570.98 964.43 570.03C966.94 569.08 970.28 568.08 972.79 567.69C975.3 567.3 976.69 567.47 979.48 567.69C982.27 567.91 986.17 568.69 989.52 569.03C992.86 569.36 996.48 569.81 999.55 569.7C1002.61 569.59 1005.12 568.75 1007.91 568.36C1010.7 567.97 1013.21 568.08 1016.27 567.36C1019.34 566.63 1022.96 564.74 1026.3 564.01C1029.65 563.29 1032.99 563.4 1036.34 563.01C1039.68 562.62 1043.03 562.06 1046.37 561.67C1049.72 561.28 1053.06 560.95 1056.4 560.67C1059.75 560.39 1063.09 560.17 1066.44 560C1069.78 559.83 1072.57 559.78 1076.47 559.66C1080.37 559.55 1085.39 559.44 1089.85 559.33C1094.31 559.22 1098.77 558.99 1103.23 558.99C1107.69 558.99 1112.7 558.99 1116.61 559.33C1120.51 559.66 1123.29 560.33 1126.64 561C1129.98 561.67 1133.61 562.51 1136.67 563.34C1139.74 564.18 1142.25 565.24 1145.03 566.02C1147.82 566.8 1150.33 567.86 1153.39 568.02C1156.46 568.19 1160.08 567.24 1163.43 567.02C1166.77 566.8 1170.12 567.08 1173.46 566.69C1176.81 566.3 1180.99 564.79 1183.49 564.68C1186 564.57 1186.59 565.01 1188.51 566.02C1190.43 567.02 1192.8 569.36 1195 570.7C1197.2 572.04 1199.18 573.04 1201.69 574.04C1204.2 575.05 1206.71 576.44 1210.05 576.72C1213.39 577 1218.13 575.72 1221.76 575.72C1225.38 575.72 1228.44 576.44 1231.79 576.72C1235.13 577 1239.04 577.5 1241.82 577.39C1244.61 577.28 1246.28 576.61 1248.51 576.05C1250.74 575.49 1252.41 574.6 1255.2 574.04C1257.99 573.49 1261.89 573.1 1265.23 572.71C1268.58 572.32 1272.2 571.98 1275.27 571.7C1278.33 571.42 1280.84 571.42 1283.63 571.03C1286.42 570.64 1289.2 569.53 1291.99 569.36C1294.78 569.2 1297.56 570.03 1300.35 570.03C1303.14 570.03 1305.65 569.7 1308.71 569.36C1311.78 569.03 1315.68 568.08 1318.75 568.02C1321.81 567.97 1324.32 568.53 1327.11 569.03C1329.89 569.53 1332.96 570.53 1335.47 571.03C1337.98 571.54 1340.21 572.09 1342.16 572.04C1344.11 571.98 1345.22 571.37 1347.17 570.7C1349.12 570.03 1351.35 568.75 1353.86 568.02C1356.37 567.3 1359.72 566.91 1362.22 566.35C1364.73 565.8 1366.4 565.35 1368.91 564.68C1371.42 564.01 1374.49 562.95 1377.27 562.34C1380.06 561.73 1382.57 561.28 1385.64 561C1388.7 560.72 1392.32 560.78 1395.67 560.67C1399.01 560.56 1402.36 560.5 1405.7 560.33C1409.05 560.17 1413.06 559.78 1415.74 559.66C1418.41 559.55 1419.8 559.16 1421.76 559.66C1423.71 560.17 1425.38 561.5 1427.44 562.67C1429.5 563.84 1431.62 565.4 1434.13 566.69C1436.64 567.97 1439.98 569.36 1442.49 570.37C1445 571.37 1446.39 571.93 1449.18 572.71C1451.97 573.49 1455.87 574.38 1459.21 575.05C1462.56 575.72 1465.35 576.16 1469.25 576.72C1473.15 577.28 1478.17 578 1482.63 578.39C1487.08 578.78 1491.54 578.78 1496 579.06C1500.46 579.34 1504.92 579.79 1509.38 580.06C1513.84 580.34 1518.3 580.57 1522.76 580.73C1527.22 580.9 1531.68 580.85 1536.14 581.07C1540.6 581.29 1545.06 581.79 1549.52 582.07C1553.97 582.35 1558.99 582.68 1562.89 582.74C1566.79 582.8 1569.58 582.8 1572.93 582.41C1576.27 582.02 1579.62 580.9 1582.96 580.4C1586.3 579.9 1589.93 579.67 1592.99 579.4C1596.06 579.12 1598.85 578.89 1601.35 578.73C1603.86 578.56 1606.09 579.01 1608.04 578.39C1609.99 577.78 1611.39 576.22 1613.06 575.05C1614.73 573.88 1616.13 572.48 1618.08 571.37C1620.03 570.25 1622.54 569.08 1624.77 568.36C1627 567.63 1629.23 567.13 1631.45 567.02C1633.68 566.91 1635.64 567.24 1638.14 567.69C1640.65 568.14 1644 569.25 1646.51 569.7C1649.01 570.14 1650.69 570.53 1653.19 570.37C1655.7 570.2 1658.77 569.2 1661.56 568.69C1664.34 568.19 1667.13 567.8 1669.92 567.36C1672.7 566.91 1675.49 566.02 1678.28 566.02C1681.06 566.02 1683.85 566.8 1686.64 567.36C1689.43 567.91 1692.21 568.97 1695 569.36C1697.79 569.75 1700.57 569.92 1703.36 569.7C1706.15 569.47 1708.94 568.75 1711.72 568.02C1714.51 567.3 1717.3 566.02 1720.08 565.35C1722.87 564.68 1725.66 564.62 1728.44 564.01C1731.23 563.4 1733.74 562.23 1736.81 561.67C1739.87 561.11 1745.17 560.83 1746.84 560.67" stroke="#0000ff" stroke-width="2" fill="none" stroke-linejoin="round" stroke-linecap="round" clip-path="url(#ca)"/>
<path d="M53.36 571.7C54.75 571.42 58.94 570.76 61.72 570.03C64.51 569.31 67.3 568.19 70.08 567.36C72.87 566.52 76.22 565.29 78.44 565.01C80.67 564.74 81.51 565.01 83.46 565.68C85.41 566.35 87.64 567.86 90.15 569.03C92.66 570.2 95.45 571.82 98.51 572.71C101.58 573.6 104.92 574.1 108.55 574.38C112.17 574.66 116.35 573.99 120.25 574.38C124.15 574.77 128.05 576 131.96 576.72C135.86 577.45 139.76 578.06 143.66 578.73C147.56 579.4 151.47 580.68 155.37 580.73C159.27 580.79 163.17 579.51 167.07 579.06C170.98 578.62 175.43 578.78 178.78 578.06C182.12 577.33 184.63 576.05 187.14 574.71C189.65 573.38 191.32 571.37 193.83 570.03C196.34 568.69 199.12 567.52 202.19 566.69C205.26 565.85 208.88 565.52 212.22 565.01C215.57 564.51 218.91 563.96 222.26 563.68C225.6 563.4 228.95 563.29 232.29 563.34C235.64 563.4 238.98 563.68 242.32 564.01C245.67 564.35 249.01 564.9 252.36 565.35C255.7 565.8 258.77 565.96 262.39 566.69C266.01 567.41 270.47 569.03 274.1 569.7C277.72 570.37 281.06 570.37 284.13 570.7C287.2 571.03 289.43 571.37 292.49 571.7C295.56 572.04 299.18 572.65 302.53 572.71C305.87 572.76 309.21 572.04 312.56 572.04C315.9 572.04 319.53 572.37 322.59 572.71C325.66 573.04 328.17 573.6 330.95 574.04C333.74 574.49 336.53 575.27 339.31 575.38C342.1 575.49 344.61 575.05 347.68 574.71C350.74 574.38 354.36 573.6 357.71 573.38C361.05 573.15 364.4 573.6 367.74 573.38C371.09 573.15 374.43 572.21 377.78 572.04C381.12 571.87 384.74 572.6 387.81 572.37C390.88 572.15 393.66 571.2 396.17 570.7C398.68 570.2 400.91 570.03 402.86 569.36C404.81 568.69 406.2 567.52 407.88 566.69C409.55 565.85 410.38 565.01 412.89 564.35C415.4 563.68 419.58 563.18 422.93 562.67C426.27 562.17 430.17 561.61 432.96 561.34C435.75 561.06 437.14 560.89 439.65 561C442.16 561.11 445.22 561.39 448.01 562C450.8 562.62 453.58 564.12 456.37 564.68C459.16 565.24 461.95 565.35 464.73 565.35C467.52 565.35 470.31 564.9 473.09 564.68C475.88 564.46 478.95 563.79 481.45 564.01C483.96 564.23 485.91 565.13 488.14 566.02C490.37 566.91 492.6 568.36 494.83 569.36C497.06 570.37 499.29 571.37 501.52 572.04C503.75 572.71 505.7 573.21 508.21 573.38C510.72 573.54 513.51 572.99 516.57 573.04C519.64 573.1 523.26 573.38 526.61 573.71C529.95 574.04 533.29 574.66 536.64 575.05C539.98 575.44 543.33 575.61 546.67 576.05C550.02 576.5 553.64 577.22 556.71 577.72C559.77 578.23 562.56 578.89 565.07 579.06C567.58 579.23 569.53 578.95 571.76 578.73C573.99 578.5 575.94 577.89 578.44 577.72C580.95 577.56 584.3 578.06 586.81 577.72C589.31 577.39 591.27 576.55 593.49 575.72C595.72 574.88 597.4 573.65 600.18 572.71C602.97 571.76 606.87 570.7 610.22 570.03C613.56 569.36 616.91 568.92 620.25 568.69C623.6 568.47 627.83 568.69 630.28 568.69C632.74 568.69 632.82 569.14 635 568.69C637.18 568.25 640.57 566.69 643.36 566.02C646.15 565.35 649.49 564.68 651.72 564.68C653.95 564.68 654.79 565.01 656.74 566.02C658.69 567.02 661.2 569.53 663.43 570.7C665.66 571.87 667.61 572.54 670.12 573.04C672.63 573.54 675.69 573.71 678.48 573.71C681.27 573.71 684.05 572.71 686.84 573.04C689.63 573.38 692.13 574.71 695.2 575.72C698.27 576.72 701.89 578.28 705.23 579.06C708.58 579.84 711.92 580.12 715.27 580.4C718.61 580.68 721.96 580.62 725.3 580.73C728.65 580.85 731.71 580.9 735.33 581.07C738.96 581.24 743.14 581.51 747.04 581.74C750.94 581.96 755.4 582.52 758.75 582.41C762.09 582.29 764.32 581.74 767.11 581.07C769.89 580.4 772.4 579.4 775.47 578.39C778.53 577.39 782.16 575.83 785.5 575.05C788.85 574.27 792.47 574.55 795.54 573.71C798.6 572.87 801.11 571.2 803.9 570.03C806.68 568.86 809.47 567.47 812.26 566.69C815.04 565.91 818.11 565.57 820.62 565.35C823.13 565.13 825.08 564.9 827.31 565.35C829.54 565.8 831.49 566.97 834 568.02C836.51 569.08 839.29 570.87 842.36 571.7C845.42 572.54 848.49 572.6 852.39 573.04C856.29 573.49 861.31 574.27 865.77 574.38C870.23 574.49 874.69 573.71 879.15 573.71C883.61 573.71 888.07 574.27 892.53 574.38C896.98 574.49 902 574.27 905.9 574.38C909.8 574.49 913.15 574.83 915.94 575.05C918.72 575.27 920.4 575.88 922.63 575.72C924.86 575.55 927.08 574.55 929.31 574.04C931.54 573.54 933.49 572.82 936 572.71C938.51 572.6 941.58 573.15 944.36 573.38C947.15 573.6 950.5 574.04 952.73 574.04C954.96 574.04 955.79 574.04 957.74 573.38C959.69 572.71 961.92 570.98 964.43 570.03C966.94 569.08 970.28 568.08 972.79 567.69C975.3 567.3 976.69 567.47 979.48 567.69C982.27 567.91 986.17 568.69 989.52 569.03C992.86 569.36 996.48 569.81 999.55 569.7C1002.61 569.59 1005.12 568.75 1007.91 568.36C1010.7 567.97 1013.21 568.08 1016.27 567.36C1019.34 566.63 1022.96 564.74 1026.3 564.01C1029.65 563.29 1032.99 563.4 1036.34 563.01C1039.68 562.62 1043.03 562.06 1046.37 561.67C1049.72 561.28 1053.06 560.95 1056.4 560.67C1059.75 560.39 1063.09 560.17 1066.44 560C1069.78 559.83 1072.57 559.78 1076.47 559.66C1080.37 559.55 1085.39 559.44 1089.85 559.33C1094.31 559.22 1098.77 558.99 1103.23 558.99C1107.69 558.99 1112.7 558.99 1116.61 559.33C1120.51 559.66 1123.29 560.33 1126.64 561C1129.98 561.67 1133.61 562.51 1136.67 563.34C1139.74 564.18 1142.25 565.24 1145.03 566.02C1147.82 566.8 1150.33 567.86 1153.39 568.02C1156.46 568.19 1160.08 567.24 1163.43 567.02C1166.77 566.8 1170.12 567.08 1173.46 566.69C1176.81 566.3 1180.99 564.79 1183.49 564.68C1186 564.57 1186.59 565.01 1188.51 566.02C1190.43 567.02 1192.8 569.36 1195 570.7C1197.2 572.04 1199.18 573.04 1201.69 574.04C1204.2 575.05 1206.71 576.44 1210.05 576.72C1213.39 577 1218.13 575.72 1221.76 575.72C1225.38 575.72 1228.44 576.44 1231.79 576.72C1235.13 577 1239.04 577.5 1241.82 577.39C1244.61 577.28 1246.28 576.61 1248.51 576.05C1250.74 575.49 1252.41 574.6 1255.2 574.04C1257.99 573.49 1261.89 573.1 1265.23 572.71C1268.58 572.32 1272.2 571.98 1275.27 571.7C1278.33 571.42 1280.84 571.42 1283.63 571.03C1286.42 570.64 1289.2 569.53 1291.99 569.36C1294.78 569.2 1297.56 570.03 1300.35 570.03C1303.14 570.03 1305.65 569.7 1308.71 569.36C1311.78 569.03 1315.68 568.08 1318.75 568.02C1321.81 567.97 1324.32 568.53 1327.11 569.03C1329.89 569.53 1332.96 570.53 1335.47 571.03C1337.98 571.54 1340.21 572.09 1342.16 572.04C1344.11 571.98 1345.22 571.37 1347.17 570.7C1349.12 570.03 1351.35 568.75 1353.86 568.02C1356.37 567.3 1359.72 566.91 1362.22 566.35C1364.73 565.8 1366.4 565.35 1368.91 564.68C1371.42 564.01 1374.49 562.95 1377.27 562.34C1380.06 561.73 1382.57 561.28 1385.64 561C1388.7 560.72 1392.32 560.78 1395.67 560.67C1399.01 560.56 1402.36 560.5 1405.7 560.33C1409.05 560.17 1413.06 559.78 1415.74 559.66C1418.41 559.55 1419.8 559.16 1421.76 559.66C1423.71 560.17 1425.38 561.5 1427.44 562.67C1429.5 563.84 1431.62 565.4 1434.13 566.69C1436.64 567.97 1439.98 569.36 1442.49 570.37C1445 571.37 1446.39 571.93 1449.18 572.71C1451.97 573.49 1455.87 574.38 1459.21 575.05C1462.56 575.72 1465.35 576.16 1469.25 576.72C1473.15 577.28 1478.17 578 1482.63 578.39C1487.08 578.78 1491.54 578.78 1496 579.06C1500.46 579.34 1504.92 579.79 1509.38 580.06C1513.84 580.34 1518.3 580.57 1522.76 580.73C1527.22 580.9 1531.68 580.85 1536.14 581.07C1540.6 581.29 1545.06 581.79 1549.52 582.07C1553.97 582.35 1558.99 582.68 1562.89 582.74C1566.79 582.8 1569.58 582.8 1572.93 582.41C1576.27 582.02 1579.62 580.9 1582.96 580.4C1586.3 579.9 1589.93 579.67 1592.99 579.4C1596.06 579.12 1598.85 578.89 1601.35 578.73C1603.86 578.56 1606.09 579.01 1608.04 578.39C1609.99 577.78 1611.39 576.22 1613.06 575.05C1614.73 573.88 1616.13 572.48 1618.08 571.37C1620.03 570.25 1622.54 569.08 1624.77 568.36C1627 567.63 1629.23 567.13 1631.45 567.02C1633.68 566.91 1635.64 567.24 1638.14 567.69C1640.65 568.14 1644 569.25 1646.51 569.7C1649.01 570.14 1650.69 570.53 1653.19 570.37C1655.7 570.2 1658.77 569.2 1661.56 568.69C1664.34 568.19 1667.13 567.8 1669.92 567.36C1672.7 566.91 1675.49 566.02 1678.28 566.02C1681.06 566.02 1683.85 566.8 1686.64 567.36C1689.43 567.91 1692.21 568.97 1695 569.36C1697.79 569.75 1700.57 569.92 1703.36 569.7C1706.15 569.47 1708.94 568.75 1711.72 568.02C1714.51 567.3 1717.3 566.02 1720.08 565.35C1722.87 564.68 1725.66 564.62 1728.44 564.01C1731.23 563.4 1733.74 562.23 1736.81 561.67C1739.87 561.11 1745.17 560.83 1746.84 560.67" stroke="#ff0000" stroke-width="2" fill="none" stroke-linejoin="round" stroke-linecap="round" clip-path="url(#cb)"/>
<path d="M56.1 642.3v-1.4h3v1.4zM65.99 642.3v-1.4h3v1.4zM70.93 642.3v-1.8h3v1.8zM75.87 642.3v-1.4h3v1.4zM80.81 642.3v-1.4h3v1.4zM85.76 642.3v-3.6h3v3.6zM90.7 642.3v-2.2h3v2.2zM100.59 642.3v-1.4h3v1.4zM105.53 642.3v-1.4h3v1.4zM125.3 642.3v-2h3v2zM130.24 642.3v-2h3v2zM145.07 642.3v-2h3v2zM150.02 642.3v-1.4h3v1.4zM154.96 642.3v-4.4h3v4.4zM159.9 642.3v-2.4h3v2.4zM164.85 642.3v-3h3v3zM169.79 642.3v-2.4h3v2.4zM174.73 642.3v-2.2h3v2.2zM184.62 642.3v-4h3v4zM189.56 642.3v-1.6h3v1.6zM194.5 642.3v-2.2h3v2.2zM199.45 642.3v-1.4h3v1.4zM209.33 642.3v-1.4h3v1.4zM214.28 642.3v-1.4h3v1.4zM219.22 642.3v-1.4h3v1.4zM224.16 642.3v-1.8h3v1.8zM229.1 642.3v-2.4h3v2.4zM234.05 642.3v-2h3v2zM238.99 642.3v-1.4h3v1.4zM253.82 642.3v-1.4h3v1.4zM258.76 642.3v-1.4h3v1.4zM273.59 642.3v-1.4h3v1.4zM278.53 642.3v-1.8h3v1.8zM283.48 642.3v-2.2h3v2.2zM288.42 642.3v-1.6h3v1.6zM293.36 642.3v-3h3v3zM308.19 642.3v-1.4h3v1.4zM313.14 642.3v-1.4h3v1.4zM327.96 642.3v-3h3v3zM332.91 642.3v-6.4h3v6.4zM337.85 642.3v-3.2h3v3.2zM342.79 642.3v-2.2h3v2.2zM352.68 642.3v-4.4h3v4.4zM357.62 642.3v-4.8h3v4.8zM362.57 642.3v-4.8h3v4.8zM367.51 642.3v-2.8h3v2.8zM372.45 642.3v-1.8h3v1.8zM377.39 642.3v-3h3v3zM382.34 642.3v-2.4h3v2.4zM387.28 642.3v-3.2h3v3.2zM392.22 642.3v-6.4h3v6.4zM397.17 642.3v-1.4h3v1.4zM402.11 642.3v-4.4h3v4.4zM407.05 642.3v-10.8h3v10.8zM412 642.3v-6h3v6zM416.94 642.3v-2.4h3v2.4zM421.88 642.3v-3.2h3v3.2zM426.82 642.3v-5.2h3v5.2zM431.77 642.3v-10.8h3v10.8zM436.71 642.3v-10.8h3v10.8zM441.65 642.3v-4.4h3v4.4zM446.6 642.3v-5.2h3v5.2zM451.54 642.3v-7h3v7zM456.48 642.3v-5.2h3v5.2zM461.43 642.3v-6h3v6zM466.37 642.3v-10h3v10zM471.31 642.3v-10h3v10zM476.25 642.3v-7.4h3v7.4zM481.2 642.3v-6h3v6zM486.14 642.3v-5.4h3v5.4zM491.08 642.3v-7h3v7zM496.03 642.3v-2.4h3v2.4zM500.97 642.3v-4.4h3v4.4zM505.91 642.3v-2.8h3v2.8zM510.86 642.3v-4h3v4zM515.8 642.3v-4.4h3v4.4zM520.74 642.3v-3.4h3v3.4zM525.69 642.3v-2.8h3v2.8zM530.63 642.3v-3.4h3v3.4zM535.57 642.3v-2.8h3v2.8zM540.51 642.3v-2.4h3v2.4zM545.46 642.3v-2.8h3v2.8zM550.4 642.3v-2h3v2zM555.34 642.3v-2.8h3v2.8zM560.29 642.3v-1.6h3v1.6zM565.23 642.3v-1.4h3v1.4zM570.17 642.3v-2.8h3v2.8zM575.12 642.3v-3.4h3v3.4zM580.06 642.3v-1.4h3v1.4zM585 642.3v-1.4h3v1.4zM589.94 642.3v-9h3v9zM594.89 642.3v-15h3v15zM599.83 642.3v-9h3v9zM604.77 642.3v-11.8h3v11.8zM609.72 642.3v-10.8h3v10.8zM614.66 642.3v-6h3v6zM619.6 642.3v-6h3v6zM624.54 642.3v-5.2h3v5.2zM629.49 642.3v-2h3v2zM634.43 642.3v-4.4h3v4.4zM639.37 642.3v-7h3v7zM644.32 642.3v-8.8h3v8.8zM649.26 642.3v-5.2h3v5.2zM654.2 642.3v-7h3v7zM659.15 642.3v-9.8h3v9.8zM664.09 642.3v-5.2h3v5.2zM669.03 642.3v-5.2h3v5.2zM673.98 642.3v-8h3v8zM678.92 642.3v-5.2h3v5.2zM683.86 642.3v-5.2h3v5.2zM688.8 642.3v-5.2h3v5.2zM693.75 642.3v-10.8h3v10.8zM698.69 642.3v-9h3v9zM703.63 642.3v-11.8h3v11.8zM708.58 642.3v-12.8h3v12.8zM713.52 642.3v-10.8h3v10.8zM718.46 642.3v-4.4h3v4.4zM723.4 642.3v-5.2h3v5.2zM728.35 642.3v-8h3v8zM733.29 642.3v-2.8h3v2.8zM738.23 642.3v-3.4h3v3.4zM743.18 642.3v-2.8h3v2.8zM748.12 642.3v-2.8h3v2.8zM753.06 642.3v-4.4h3v4.4zM758.01 642.3v-4.4h3v4.4zM762.95 642.3v-2.8h3v2.8zM767.89 642.3v-3.6h3v3.6zM772.83 642.3v-1h3v1zM777.78 642.3v-1h3v1zM782.72 642.3v-1h3v1zM787.66 642.3v-1h3v1zM792.61 642.3v-1h3v1zM797.55 642.3v-2.8h3v2.8zM802.49 642.3v-5.2h3v5.2zM807.44 642.3v-5.2h3v5.2zM812.38 642.3v-3.6h3v3.6zM817.32 642.3v-7h3v7zM822.26 642.3v-3.6h3v3.6zM827.21 642.3v-2.8h3v2.8zM832.15 642.3v-5.2h3v5.2zM837.09 642.3v-2.8h3v2.8zM842.04 642.3v-1.6h3v1.6zM846.98 642.3v-1.6h3v1.6zM851.92 642.3v-1.4h3v1.4zM856.87 642.3v-1h3v1zM866.75 642.3v-1.2h3v1.2zM871.69 642.3v-1.6h3v1.6zM876.64 642.3v-1.6h3v1.6zM881.58 642.3v-1.2h3v1.2zM891.47 642.3v-1.2h3v1.2zM896.41 642.3v-1.2h3v1.2zM911.24 642.3v-1.2h3v1.2zM921.12 642.3v-3.6h3v3.6zM926.07 642.3v-2.8h3v2.8zM940.9 642.3v-2h3v2zM950.78 642.3v-1.2h3v1.2zM955.73 642.3v-1.6h3v1.6zM960.67 642.3v-1.6h3v1.6zM965.61 642.3v-1.2h3v1.2zM975.5 642.3v-2h3v2zM985.38 642.3v-1.2h3v1.2zM990.33 642.3v-1.2h3v1.2zM995.27 642.3v-1.2h3v1.2zM1000.21 642.3v-2.8h3v2.8zM1005.16 642.3v-1.6h3v1.6zM1010.1 642.3v-1.2h3v1.2zM1015.04 642.3v-1.2h3v1.2zM1019.98 642.3v-3.6h3v3.6zM1024.93 642.3v-3.6h3v3.6zM1029.87 642.3v-2.8h3v2.8zM1034.81 642.3v-1.6h3v1.6zM1039.76 642.3v-7h3v7zM1044.7 642.3v-8h3v8zM1049.64 642.3v-9h3v9zM1054.59 642.3v-4.4h3v4.4zM1059.53 642.3v-18.9h3v18.9zM1064.47 642.3v-8h3v8zM1069.41 642.3v-4.4h3v4.4zM1074.36 642.3v-6h3v6zM1079.3 642.3v-2.8h3v2.8zM1084.24 642.3v-2.8h3v2.8zM1089.19 642.3v-46.4h3v46.4zM1094.13 642.3v-14h3v14zM1099.07 642.3v-12.4h3v12.4zM1104.02 642.3v-7h3v7zM1108.96 642.3v-22.1h3v22.1zM1113.9 642.3v-16h3v16zM1118.85 642.3v-8h3v8zM1123.79 642.3v-16h3v16zM1128.73 642.3v-2.4h3v2.4zM1133.67 642.3v-1.6h3v1.6zM1138.62 642.3v-4.4h3v4.4zM1148.5 642.3v-1h3v1zM1153.45 642.3v-3.6h3v3.6zM1158.39 642.3v-1h3v1zM1163.33 642.3v-2.4h3v2.4zM1168.28 642.3v-1h3v1zM1173.22 642.3v-1.6h3v1.6zM1178.16 642.3v-3.2h3v3.2zM1183.1 642.3v-4.4h3v4.4zM1188.05 642.3v-4.4h3v4.4zM1192.99 642.3v-4.4h3v4.4zM1197.93 642.3v-5.2h3v5.2zM1202.88 642.3v-2.4h3v2.4zM1207.82 642.3v-5.2h3v5.2zM1212.76 642.3v-12.4h3v12.4zM1227.59 642.3v-1h3v1zM1232.53 642.3v-1.6h3v1.6zM1242.42 642.3v-1h3v1zM1247.36 642.3v-1h3v1zM1252.31 642.3v-4.4h3v4.4zM1257.25 642.3v-3.6h3v3.6zM1262.19 642.3v-2.8h3v2.8zM1267.13 642.3v-2.8h3v2.8zM1277.02 642.3v-1h3v1zM1281.96 642.3v-2.4h3v2.4zM1291.85 642.3v-1.6h3v1.6zM1331.39 642.3v-1h3v1zM1341.28 642.3v-1.6h3v1.6zM1346.22 642.3v-1h3v1zM1356.11 642.3v-1h3v1zM1366 642.3v-1h3v1zM1370.94 642.3v-1.6h3v1.6zM1375.88 642.3v-1.2h3v1.2zM1380.82 642.3v-1.6h3v1.6zM1385.77 642.3v-2.4h3v2.4zM1390.71 642.3v-1.6h3v1.6zM1395.65 642.3v-1.6h3v1.6zM1400.6 642.3v-1.2h3v1.2zM1405.54 642.3v-2.4h3v2.4zM1410.48 642.3v-2.8h3v2.8zM1415.42 642.3v-2.8h3v2.8zM1420.37 642.3v-1.2h3v1.2zM1425.31 642.3v-1.2h3v1.2zM1430.25 642.3v-1h3v1zM1435.2 642.3v-1h3v1zM1440.14 642.3v-2h3v2zM1445.08 642.3v-2h3v2zM1450.03 642.3v-1.2h3v1.2zM1459.91 642.3v-2h3v2zM1474.74 642.3v-1h3v1zM1479.68 642.3v-1h3v1zM1484.63 642.3v-1h3v1zM1499.46 642.3v-1.2h3v1.2zM1543.94 642.3v-1h3v1zM1553.83 642.3v-1.2h3v1.2zM1558.77 642.3v-1.2h3v1.2zM1588.43 642.3v-2.2h3v2.2zM1593.37 642.3v-1.2h3v1.2zM1598.32 642.3v-1.2h3v1.2zM1637.86 642.3v-1h3v1zM1642.8 642.3v-1h3v1zM1652.69 642.3v-1.2h3v1.2zM1667.52 642.3v-1.2h3v1.2zM1677.4 642.3v-1.2h3v1.2zM1682.35 642.3v-2h3v2zM1697.18 642.3v-1h3v1zM1702.12 642.3v-1h3v1zM1707.06 642.3v-1.2h3v1.2zM1712.01 642.3v-1.8h3v1.8zM1716.95 642.3v-3h3v3zM1721.89 642.3v-1.4h3v1.4zM1726.83 642.3v-2h3v2zM1731.78 642.3v-4.8h3v4.8zM1736.72 642.3v-2h3v2zM1741.66 642.3v-1.2h3v1.2zM1746.61 642.3v-1.2h3v1.2z" fill="#ff00ff"/>
<rect x="53" y="645.2" width="1696.5" height="1.5" fill="#e6e9f1"/>
<rect x="214.1" y="645.7" width="1" height="40.5" fill="#e6e6e6"/>
<rect x="363.9" y="645.7" width="1" height="40.5" fill="#e6e6e6"/>
<rect x="513.7" y="645.7" width="1" height="40.5" fill="#e6e6e6"/>
<rect x="663.5" y="645.7" width="1" height="40.5" fill="#e6e6e6"/>
<rect x="813.3" y="645.7" width="1" height="40.5" fill="#e6e6e6"/>
<rect x="963.1" y="645.7" width="1" height="40.5" fill="#e6e6e6"/>
<rect x="1112.9" y="645.7" width="1" height="40.5" fill="#e6e6e6"/>
<rect x="1262.7" y="645.7" width="1" height="40.5" fill="#e6e6e6"/>
<rect x="1412.5" y="645.7" width="1" height="40.5" fill="#e6e6e6"/>
<rect x="1562.3" y="645.7" width="1" height="40.5" fill="#e6e6e6"/>
<rect x="1712.1" y="645.7" width="1" height="40.5" fill="#e6e6e6"/>
<rect x="115.1" y="640.2" width="1" height="9.3" fill="#ccd6eb" fill-opacity="0.75"/>
<rect x="201.9" y="640.2" width="1" height="9.3" fill="#ccd6eb" fill-opacity="0.75"/>
<rect x="288.4" y="640.2" width="1" height="9.3" fill="#ccd6eb" fill-opacity="0.75"/>
<rect x="374.3" y="640.2" width="1" height="9.3" fill="#ccd6eb" fill-opacity="0.75"/>
<rect x="459.6" y="640.2" width="1" height="9.3" fill="#ccd6eb" fill-opacity="0.75"/>
<rect x="545.6" y="640.2" width="1" height="9.3" fill="#ccd6eb" fill-opacity="0.75"/>
<rect x="632.5" y="640.2" width="1" height="9.3" fill="#ccd6eb" fill-opacity="0.75"/>
<rect x="716.9" y="640.2" width="1" height="9.3" fill="#ccd6eb" fill-opacity="0.75"/>
<rect x="803.9" y="640.2" width="1" height="9.3" fill="#ccd6eb" fill-opacity="0.75"/>
<rect x="889.4" y="640.2" width="1" height="9.3" fill="#ccd6eb" fill-opacity="0.75"/>
<rect x="974.9" y="640.2" width="1" height="9.3" fill="#ccd6eb" fill-opacity="0.75"/>
<rect x="1060.9" y="640.2" width="1" height="9.3" fill="#ccd6eb" fill-opacity="0.75"/>
<rect x="1146.9" y="640.2" width="1" height="9.3" fill="#ccd6eb" fill-opacity="0.75"/>
<rect x="1232.5" y="640.2" width="1" height="9.3" fill="#ccd6eb" fill-opacity="0.75"/>
<rect x="1319.6" y="640.2" width="1" height="9.3" fill="#ccd6eb" fill-opacity="0.75"/>
<rect x="1406.3" y="640.2" width="1" height="9.3" fill="#ccd6eb" fill-opacity="0.75"/>
<rect x="1490.6" y="640.2" width="1" height="9.3" fill="#ccd6eb" fill-opacity="0.75"/>
<rect x="1577.2" y="640.2" width="1" height="9.3" fill="#ccd6eb" fill-opacity="0.75"/>
<rect x="1663.1" y="640.2" width="1" height="9.3" fill="#ccd6eb" fill-opacity="0.75"/>
<rect x="1748.5" y="640.2" width="1" height="9.3" fill="#ccd6eb" fill-opacity="0.75"/>
<rect x="1244.8" y="645.7" width="492.20000000000005" height="40.5" fill="#6685c2" fill-opacity="0.3"/>
<text x="217.2" y="681.6" font-size="9" fill="#999" textLength="23.6" lengthAdjust="spacingAndGlyphs">2002</text>
<text x="367" y="681.6" font-size="9" fill="#999" textLength="23.6" lengthAdjust="spacingAndGlyphs">2004</text>
<text x="516.8" y="681.6" font-size="9" fill="#999" textLength="23.6" lengthAdjust="spacingAndGlyphs">2006</text>
<text x="666.6" y="681.6" font-size="9" fill="#999" textLength="23.6" lengthAdjust="spacingAndGlyphs">2008</text>
<text x="816.4" y="681.6" font-size="9" fill="#999" textLength="23.6" lengthAdjust="spacingAndGlyphs">2010</text>
<text x="966.2" y="681.6" font-size="9" fill="#999" textLength="23.6" lengthAdjust="spacingAndGlyphs">2012</text>
<text x="1116" y="681.6" font-size="9" fill="#999" textLength="23.6" lengthAdjust="spacingAndGlyphs">2014</text>
<text x="1265.8" y="681.6" font-size="9" fill="#999" textLength="23.6" lengthAdjust="spacingAndGlyphs">2016</text>
<text x="1415.6" y="681.6" font-size="9" fill="#999" textLength="23.6" lengthAdjust="spacingAndGlyphs">2018</text>
<text x="1565.4" y="681.6" font-size="9" fill="#999" textLength="23.6" lengthAdjust="spacingAndGlyphs">2020</text>
<text x="1715.2" y="681.6" font-size="9" fill="#999" textLength="23.6" lengthAdjust="spacingAndGlyphs">2022</text>
<text x="116.1" y="657.9" font-size="8.9" fill="#585858" text-anchor="middle" textLength="33.3" lengthAdjust="spacingAndGlyphs">Jan '16</text>
<text x="202.5" y="657.9" font-size="8.9" fill="#585858" text-anchor="middle" textLength="36.3" lengthAdjust="spacingAndGlyphs">May '16</text>
<text x="289.4" y="657.9" font-size="8.9" fill="#585858" text-anchor="middle" textLength="34.6" lengthAdjust="spacingAndGlyphs">Sep '16</text>
<text x="375.3" y="657.9" font-size="8.9" fill="#585858" text-anchor="middle" textLength="33.3" lengthAdjust="spacingAndGlyphs">Jan '17</text>
<text x="460.2" y="657.9" font-size="8.9" fill="#585858" text-anchor="middle" textLength="36.3" lengthAdjust="spacingAndGlyphs">May '17</text>
<text x="546.6" y="657.9" font-size="8.9" fill="#585858" text-anchor="middle" textLength="34.6" lengthAdjust="spacingAndGlyphs">Sep '17</text>
<text x="633.5" y="657.9" font-size="8.9" fill="#585858" text-anchor="middle" textLength="33.3" lengthAdjust="spacingAndGlyphs">Jan '18</text>
<text x="717.5" y="657.9" font-size="8.9" fill="#585858" text-anchor="middle" textLength="36.3" lengthAdjust="spacingAndGlyphs">May '18</text>
<text x="804.9" y="657.9" font-size="8.9" fill="#585858" text-anchor="middle" textLength="34.6" lengthAdjust="spacingAndGlyphs">Sep '18</text>
<text x="890.4" y="657.9" font-size="8.9" fill="#585858" text-anchor="middle" textLength="33.3" lengthAdjust="spacingAndGlyphs">Jan '19</text>
<text x="975.5" y="657.9" font-size="8.9" fill="#585858" text-anchor="middle" textLength="36.3" lengthAdjust="spacingAndGlyphs">May '19</text>
<text x="1061.9" y="657.9" font-size="8.9" fill="#585858" text-anchor="middle" textLength="34.6" lengthAdjust="spacingAndGlyphs">Sep '19</text>
<text x="1147.9" y="657.9" font-size="8.9" fill="#585858" text-anchor="middle" textLength="33.3" lengthAdjust="spacingAndGlyphs">Jan '20</text>
<text x="1233.1" y="657.9" font-size="8.9" fill="#585858" text-anchor="middle" textLength="36.3" lengthAdjust="spacingAndGlyphs">May '20</text>
<text x="1320.6" y="657.9" font-size="8.9" fill="#585858" text-anchor="middle" textLength="34.6" lengthAdjust="spacingAndGlyphs">Sep '20</text>
<text x="1407.3" y="657.9" font-size="8.9" fill="#585858" text-anchor="middle" textLength="33.3" lengthAdjust="spacingAndGlyphs">Jan '21</text>
<text x="1491.2" y="657.9" font-size="8.9" fill="#585858" text-anchor="middle" textLength="36.3" lengthAdjust="spacingAndGlyphs">May '21</text>
<text x="1578.2" y="657.9" font-size="8.9" fill="#585858" text-anchor="middle" textLength="34.6" lengthAdjust="spacingAndGlyphs">Sep '21</text>
<text x="1664.1" y="657.9" font-size="8.9" fill="#585858" text-anchor="middle" textLength="33.3" lengthAdjust="spacingAndGlyphs">Jan '22</text>
<text x="1749.1" y="657.9" font-size="8.9" fill="#585858" text-anchor="middle" textLength="36.3" lengthAdjust="spacingAndGlyphs">May '22</text>
<rect x="1241.2" y="658.6" width="7.2" height="13.8" rx="1" fill="#f2f2f2" stroke="#999" stroke-width="1"/>
<path d="M1243.8 662v7M1245.8 662v7" stroke="#999" stroke-width="0.9"/>
<rect x="1733.4" y="658.6" width="7.2" height="13.8" rx="1" fill="#f2f2f2" stroke="#999" stroke-width="1"/>
<path d="M1736 662v7M1738 662v7" stroke="#999" stroke-width="0.9"/>
<rect x="53" y="686.2" width="1696.5" height="13.3" fill="#f2f2f2"/>
<rect x="1244.8" y="686.2" width="492.20000000000005" height="13.3" fill="#ccc"/>
<rect x="52.9" y="686.7" width="12.2" height="12.3" fill="#e6e6e6" stroke="#ccc" stroke-width="1"/>
<rect x="1737.4" y="686.7" width="12.2" height="12.3" fill="#e6e6e6" stroke="#ccc" stroke-width="1"/>
<path d="M60.4 690v6l-3.2-3z" fill="#333"/>
<path d="M1742 690v6l3.2-3z" fill="#333"/>
<path d="M1488.7 690v5.6M1491 690v5.6M1493.3 690v5.6" stroke="#333" stroke-width="1"/>
<text x="1785.1" y="711.6" font-size="7.6" fill="#b22222" text-anchor="end" textLength="86.5" lengthAdjust="spacingAndGlyphs">RENDIMENTOFONDI.IT</text>
<rect x="8.1" y="9.2" width="34.9" height="35.6" fill="#f7f7f7"/>
<rect x="8.1" y="63" width="34.9" height="35.6" fill="#f7f7f7"/>
<rect x="8.1" y="101.7" width="34.9" height="35.6" fill="#f7f7f7"/>
<rect x="8.1" y="140.4" width="34.9" height="35.6" fill="#f7f7f7"/>
<rect x="8.1" y="179.1" width="34.9" height="35.6" fill="#f7f7f7"/>
<rect x="8.1" y="217.4" width="34.9" height="35.6" fill="#f7f7f7"/>
<rect x="8.1" y="256.2" width="34.9" height="35.6" fill="#f7f7f7"/>
<rect x="8.1" y="310.8" width="34.9" height="35.6" fill="#f7f7f7"/>
<rect x="8.1" y="349.3" width="34.9" height="35.6" fill="#f7f7f7"/>
<rect x="8.1" y="404" width="34.9" height="35.6" fill="#f7f7f7"/>
<rect x="8.1" y="442.2" width="34.9" height="35.6" fill="#f7f7f7"/>
<rect x="8.1" y="481" width="34.9" height="35.6" fill="#f7f7f7"/>
<path d="M9 53.4H38.5" stroke="#ccc" stroke-width="1" stroke-dasharray="3.2 2.4"/>
<path d="M9 300.3H38.5" stroke="#ccc" stroke-width="1" stroke-dasharray="3.2 2.4"/>
<path d="M9 394H38.5" stroke="#ccc" stroke-width="1" stroke-dasharray="3.2 2.4"/>
<path d="M37.2 95.3h3.5v-3.4" stroke="#808080" stroke-width="1" fill="none"/>
<path d="M37.2 134h3.5v-3.4" stroke="#808080" stroke-width="1" fill="none"/>
<path d="M37.2 172.7h3.5v-3.4" stroke="#808080" stroke-width="1" fill="none"/>
<path d="M37.2 211.4h3.5v-3.4" stroke="#808080" stroke-width="1" fill="none"/>
<path d="M37.2 249.7h3.5v-3.4" stroke="#808080" stroke-width="1" fill="none"/>
<path d="M37.2 343.1h3.5v-3.4" stroke="#808080" stroke-width="1" fill="none"/>
<path d="M37.2 381.6h3.5v-3.4" stroke="#808080" stroke-width="1" fill="none"/>
<path d="M37.2 436.3h3.5v-3.4" stroke="#aaa" stroke-width="1" fill="none"/>
<path d="M37.2 513.3h3.5v-3.4" stroke="#aaa" stroke-width="1" fill="none"/>
<path d="M49.9 11.7l-2.8 2 2.8 2" stroke="#bbb" stroke-width="1" fill="none"/>
<g transform="translate(0 9.2)" stroke="#3d3d3d" fill="none" stroke-width="1.3" stroke-linecap="round" stroke-linejoin="round">
<path d="M12.7 20.4C15 17.6 17.4 13.9 19.4 14.1C22.2 14.4 23.6 24.2 27 24C29.6 23.8 33 15.8 37.8 9.3"/>
<path d="M14.9 24.1L20.6 19.7M24.6 16.1L30.6 11.7"/>
<path d="M32.4 10.4L29.2 11L30.9 13.3z" fill="#3d3d3d" stroke-width="0.6"/>
</g>
<g transform="translate(0 63)" stroke="#3d3d3d" fill="none" stroke-width="1.3" stroke-linecap="round" stroke-linejoin="round">
<path d="M15.2 11.6H35.7V23.3H29.4L25.4 27.2L21.5 23.3H15.2z" stroke-linejoin="miter"/>
<text x="25.5" y="19.9" font-size="6.6" font-weight="bold" text-anchor="middle" fill="#3d3d3d" stroke="none" font-family='"Liberation Sans", sans-serif' textLength="14.4" lengthAdjust="spacingAndGlyphs">TXT</text>
</g>
<g transform="translate(0 101.7)" stroke="#3d3d3d" fill="none" stroke-width="1.3" stroke-linecap="round" stroke-linejoin="round">
<path d="M17.6 25.5L33.2 9.9" stroke-width="1.3"/>
<circle cx="17.6" cy="25.5" r="1.7" fill="#3d3d3d" stroke="none"/><circle cx="33.2" cy="9.9" r="1.7" fill="#3d3d3d" stroke="none"/>
</g>
<g transform="translate(0 140.4)" stroke="#3d3d3d" fill="none" stroke-width="1.3" stroke-linecap="round" stroke-linejoin="round">
<path d="M15.2 23L28.2 13.9L34.9 20.2" stroke-width="1.3"/>
<text x="28.5" y="11.6" font-size="6.8" text-anchor="middle" fill="#3d3d3d" stroke="#3d3d3d" stroke-width="0.25" font-family='"Liberation Sans", sans-serif'>A</text>
<text x="15.8" y="30.3" font-size="6.8" text-anchor="middle" fill="#3d3d3d" stroke="#3d3d3d" stroke-width="0.25" font-family='"Liberation Sans", sans-serif'>0</text>
<text x="34.9" y="27.6" font-size="6.8" text-anchor="middle" fill="#3d3d3d" stroke="#3d3d3d" stroke-width="0.25" font-family='"Liberation Sans", sans-serif'>B</text>
</g>
<g transform="translate(0 179.1)" stroke="#3d3d3d" fill="none" stroke-width="1.3" stroke-linecap="round" stroke-linejoin="round">
<rect x="15.8" y="6.9" width="20.3" height="20.2" rx="1.5" stroke-width="1.7" stroke-dasharray="2.3 1.76" stroke-dashoffset="1.1" stroke-linecap="butt"/>
<path d="M20.5 17H31.4M25.9 11.6V22.4" stroke="#808080" stroke-width="1.5" stroke-linecap="butt"/>
<path d="M18.4 17l2.9-1.9v3.8zM33.5 17l-2.9-1.9v3.8zM25.9 9.4l-1.9 2.9h3.8zM25.9 24.5l-1.9-2.9h3.8z" fill="#3d3d3d" stroke="none"/>
</g>
<g transform="translate(0 217.4)" stroke="#3d3d3d" fill="none" stroke-width="1.3" stroke-linecap="round" stroke-linejoin="round">
<path d="M14.8 8.6H36.2M14.8 27.6H36.2" stroke="#666" stroke-width="1.7" stroke-linecap="butt"/>
<path d="M15 13.9H36.2M15 22.2H36.2" stroke-width="1.2" stroke-dasharray="2.9 1.65" stroke-linecap="butt"/>
<path d="M15 18.5H36.2" stroke="#888" stroke-width="1.6" stroke-dasharray="2.9 1.65" stroke-linecap="butt"/>
</g>
<g transform="translate(0 256.2)" stroke="#3d3d3d" fill="none" stroke-width="1.3" stroke-linecap="round" stroke-linejoin="round">
<path d="M15.5 17.1Q25.4 4.8 35.3 17.1Q25.4 29.4 15.5 17.1z" stroke-width="1.3" stroke-linejoin="miter"/>
<circle cx="25.4" cy="17.1" r="3.1" stroke-width="1.3"/>
<path d="M17.5 25.2L33.4 9.3" stroke="#f7f7f7" stroke-width="3.6"/>
<path d="M17.5 25.2L33.4 9.3" stroke-width="1.3"/>
</g>
<g transform="translate(0 310.8)" stroke="#3d3d3d" fill="none" stroke-width="1.3" stroke-linecap="round" stroke-linejoin="round">
<text x="25.2" y="10.9" font-size="5.6" font-weight="bold" text-anchor="middle" fill="#3d3d3d" stroke="#3d3d3d" stroke-width="0.3" font-family='"Liberation Sans", sans-serif' textLength="11.6" lengthAdjust="spacingAndGlyphs">123</text>
<path d="M25.1 13.6V25" stroke="#555" stroke-width="1.6" stroke-linecap="butt"/>
<path d="M22.9 24.4h4.4l-2.2 3.8z" fill="#3d3d3d" stroke="none"/>
</g>
<g transform="translate(0 349.3)" stroke="#3d3d3d" fill="none" stroke-width="1.3" stroke-linecap="round" stroke-linejoin="round">
<ellipse cx="23.8" cy="24.9" rx="9.2" ry="3.1" stroke-width="1.3"/>
<rect x="21" y="20" width="5.8" height="3.2" fill="#f7f7f7" stroke="none"/>
<path d="M23.8 7.2V24.2" stroke-width="1.3"/>
<path d="M24.2 8.6H34.5L29.6 12.8L34.5 17.1H24.2" stroke-width="1.3" stroke-linejoin="miter" fill="#eeeef2"/>
</g>
<g transform="translate(0 404)" stroke="#3d3d3d" fill="none" stroke-width="1.3" stroke-linecap="round" stroke-linejoin="round">
<path d="M19.3 13.2A6.6 6.6 0 0 1 30.7 13.2M30.7 18.8A6.6 6.6 0 0 1 19.3 18.8" stroke-width="1.3"/>
<path d="M22.1 16H27.9M25 13.1V18.9" stroke="#555" stroke-width="1.9" stroke-linecap="butt"/>
<path d="M15.6 16H19.4M30.6 16H34.4" stroke="#666" stroke-width="1.7" stroke-linecap="butt"/>
<path d="M13.2 16l3.2-2v4zM36.8 16l-3.2-2v4z" fill="#3d3d3d" stroke="none"/>
<path d="M29.7 20.1L34.9 25.5" stroke-width="1.4"/>
</g>
<g transform="translate(0 442.2)" stroke="#3d3d3d" fill="none" stroke-width="1.3" stroke-linecap="round" stroke-linejoin="round">
<path d="M22.7 15.2L19.1 11.6" stroke-width="1.4" stroke-linecap="butt"/>
<path d="M17.6 10.2L21.2 10.8L18.2 13.8z" fill="#3d3d3d" stroke="none"/>
<path d="M28.1 15.2L31.7 11.6" stroke-width="1.4" stroke-linecap="butt"/>
<path d="M33.2 10.2L29.6 10.8L32.6 13.8z" fill="#3d3d3d" stroke="none"/>
<path d="M22.7 20.2L19.1 23.8" stroke-width="1.4" stroke-linecap="butt"/>
<path d="M17.6 25.2L21.2 24.6L18.2 21.6z" fill="#3d3d3d" stroke="none"/>
<path d="M28.1 20.2L31.7 23.8" stroke-width="1.4" stroke-linecap="butt"/>
<path d="M33.2 25.2L29.6 24.6L32.6 21.6z" fill="#3d3d3d" stroke="none"/>
</g>
<g transform="translate(0 481)" stroke="#3d3d3d" fill="none" stroke-width="1.3" stroke-linecap="round" stroke-linejoin="round">
<path d="M17.6 8.4V24.6M14.4 12.5H17.6M17.6 19.6H21.1M25.8 15.1V28.5M25.8 22.5H28.9M22.2 26.2H25.8M33.2 7V26.3M30 8.4H33.2M33.2 23.5H36.4" stroke-width="1.5" stroke-linecap="butt"/>
</g>
</svg>
</body></html>
